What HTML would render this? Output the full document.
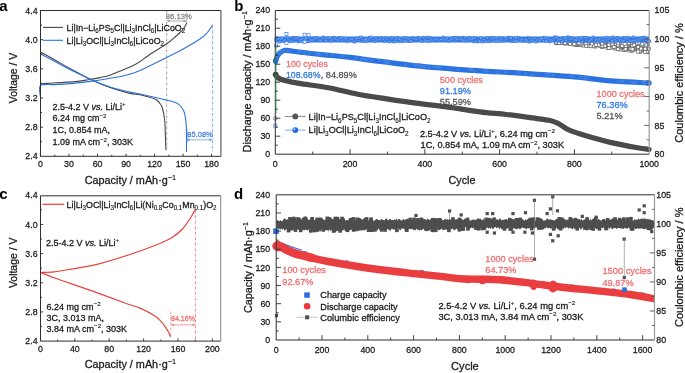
<!DOCTYPE html>
<html><head><meta charset="utf-8"><style>
html,body{margin:0;padding:0;background:#fff;width:685px;height:373px;overflow:hidden}
svg{display:block;will-change:transform;font-family:"Liberation Sans", sans-serif}
</style></head><body>
<svg width="685" height="373" viewBox="0 0 685 373">
<rect width="685" height="373" fill="#fff"/>
<g id="pa">
<path d="M40.5 83.7 C42.08 83.62 46.75 83.38 50 83.2 C53.25 83.02 55.83 82.87 60 82.6 C64.17 82.33 70.33 82.08 75 81.6 C79.67 81.12 83.83 80.37 88 79.7 C92.17 79.03 96.33 78.35 100 77.6 C103.67 76.85 106.6 76.32 110 75.2 C113.4 74.08 117.07 72.28 120.4 70.9 C123.73 69.52 127.32 68.1 130 66.9 C132.68 65.7 134.83 64.6 136.5 63.7 C138.17 62.8 137.42 63.28 140 61.5 C142.58 59.72 147.55 55.95 152 53 C156.45 50.05 162.87 46.47 166.7 43.8 C170.53 41.13 172.78 38.88 175 37 C177.22 35.12 178.5 34 180 32.5 C181.5 31 182.88 29.6 184 28 C185.12 26.4 186.25 23.75 186.7 22.9" stroke="#474747" stroke-width="1.1" fill="none" stroke-linejoin="round" stroke-linecap="round" />
<path d="M40.5 52.2 C42.92 53.5 50.08 57.28 55 60 C59.92 62.72 63.67 65.08 70 68.5 C76.33 71.92 86.33 77.33 93 80.5 C99.67 83.67 103.83 85.35 110 87.5 C116.17 89.65 125 92.2 130 93.4 C135 94.6 135.83 93.75 140 94.7 C144.17 95.65 151.67 97.63 155 99.1 C158.33 100.57 158.75 101.93 160 103.5 C161.25 105.07 161.73 105.88 162.5 108.5 C163.27 111.12 164.15 115.62 164.6 119.2 C165.05 122.78 164.98 124.93 165.2 130 C165.42 135.07 165.78 146.33 165.9 149.6" stroke="#474747" stroke-width="1.1" fill="none" stroke-linejoin="round" stroke-linecap="round" />
<path d="M40.5 97.2 C40.5 95.23 38.08 87.5 40.5 85.4 C42.92 83.3 50.08 84.9 55 84.6 C59.92 84.3 64.5 84.1 70 83.6 C75.5 83.1 83 82.2 88 81.6 C93 81 94.6 80.85 100 80 C105.4 79.15 115.4 77.48 120.4 76.5 C125.4 75.52 126.73 75.08 130 74.1 C133.27 73.12 133.88 73.37 140 70.6 C146.12 67.83 159.8 60.93 166.7 57.5 C173.6 54.07 175.85 53.08 181.4 50 C186.95 46.92 195.73 41.83 200 39 C204.27 36.17 204.9 35.28 207 33 C209.1 30.72 211.67 26.58 212.6 25.3" stroke="#2a72e0" stroke-width="1.1" fill="none" stroke-linejoin="round" stroke-linecap="round" />
<path d="M40.5 54 C42.92 55.25 50.08 58.92 55 61.5 C59.92 64.08 63.67 66.33 70 69.5 C76.33 72.67 86.33 77.58 93 80.5 C99.67 83.42 103.83 85.07 110 87 C116.17 88.93 125 90.93 130 92.1 C135 93.27 133.88 92.67 140 94 C146.12 95.33 160.7 98.63 166.7 100.1 C172.7 101.57 173.62 101.73 176 102.8 C178.38 103.87 179.58 104.77 181 106.5 C182.42 108.23 183.63 110.08 184.5 113.2 C185.37 116.32 185.87 120.73 186.2 125.2 C186.53 129.67 186.45 135.63 186.5 140 C186.55 144.37 186.5 149.5 186.5 151.4" stroke="#2a72e0" stroke-width="1.1" fill="none" stroke-linejoin="round" stroke-linecap="round" />
<line x1="166.7" y1="11" x2="166.7" y2="150" stroke="#888" stroke-width="0.8" stroke-dasharray="2.5 1.2 0.6 1.2" />
<line x1="212.6" y1="25" x2="212.6" y2="152" stroke="#6b9be8" stroke-width="0.9" stroke-dasharray="2.5 1.2 0.6 1.2" />
<line x1="187.4" y1="129" x2="187.4" y2="143" stroke="#6b9be8" stroke-width="0.6" />
<line x1="186.7" y1="11.5" x2="186.7" y2="23" stroke="#999" stroke-width="0.6" />
<line x1="167.2" y1="21" x2="186.2" y2="21" stroke="#888" stroke-width="0.7" />
<path d="M167.2 21 l2.5 -1.1 v2.2 z M186.2 21 l-2.5 -1.1 v2.2 z" fill="#888"/>
<text x="165.8" y="18.6" font-size="8" fill="#8a8a8a" stroke="#8a8a8a" stroke-width="0.28" textLength="26" lengthAdjust="spacingAndGlyphs" ><tspan>86.13%</tspan></text>
<line x1="187" y1="139.8" x2="212.2" y2="139.8" stroke="#5a8fe6" stroke-width="0.7" />
<path d="M187 139.8 l2.8 -1.3 v2.6 z M212.2 139.8 l-2.8 -1.3 v2.6 z" fill="#5a8fe6"/>
<text x="187.3" y="137.4" font-size="8" fill="#4a86e6" stroke="#4a86e6" stroke-width="0.28" textLength="25.5" lengthAdjust="spacingAndGlyphs" ><tspan>85.08%</tspan></text>
<rect x="40.5" y="10.5" width="180.3" height="145.8" fill="none" stroke="#2e2e2e" stroke-width="1"/>
<line x1="220.8" y1="10.5" x2="220.8" y2="156.3" stroke="#9a9a9a" stroke-width="1.2" />
<text x="37.6" y="159.4" font-size="9.8" fill="#1a1a1a" stroke="#1a1a1a" stroke-width="0.28" text-anchor="end" textLength="12.26" lengthAdjust="spacingAndGlyphs" ><tspan>2.4</tspan></text>
<line x1="40.5" y1="141.72" x2="42.1" y2="141.72" stroke="#2e2e2e" stroke-width="0.9" />
<line x1="40.5" y1="127.14" x2="43.1" y2="127.14" stroke="#2e2e2e" stroke-width="0.9" />
<text x="37.6" y="130.24" font-size="9.8" fill="#1a1a1a" stroke="#1a1a1a" stroke-width="0.28" text-anchor="end" textLength="12.26" lengthAdjust="spacingAndGlyphs" ><tspan>2.8</tspan></text>
<line x1="40.5" y1="112.56" x2="42.1" y2="112.56" stroke="#2e2e2e" stroke-width="0.9" />
<line x1="40.5" y1="97.98" x2="43.1" y2="97.98" stroke="#2e2e2e" stroke-width="0.9" />
<text x="37.6" y="101.08" font-size="9.8" fill="#1a1a1a" stroke="#1a1a1a" stroke-width="0.28" text-anchor="end" textLength="12.26" lengthAdjust="spacingAndGlyphs" ><tspan>3.2</tspan></text>
<line x1="40.5" y1="83.4" x2="42.1" y2="83.4" stroke="#2e2e2e" stroke-width="0.9" />
<line x1="40.5" y1="68.82" x2="43.1" y2="68.82" stroke="#2e2e2e" stroke-width="0.9" />
<text x="37.6" y="71.92" font-size="9.8" fill="#1a1a1a" stroke="#1a1a1a" stroke-width="0.28" text-anchor="end" textLength="12.26" lengthAdjust="spacingAndGlyphs" ><tspan>3.6</tspan></text>
<line x1="40.5" y1="54.24" x2="42.1" y2="54.24" stroke="#2e2e2e" stroke-width="0.9" />
<line x1="40.5" y1="39.66" x2="43.1" y2="39.66" stroke="#2e2e2e" stroke-width="0.9" />
<text x="37.6" y="42.76" font-size="9.8" fill="#1a1a1a" stroke="#1a1a1a" stroke-width="0.28" text-anchor="end" textLength="12.26" lengthAdjust="spacingAndGlyphs" ><tspan>4.0</tspan></text>
<line x1="40.5" y1="25.08" x2="42.1" y2="25.08" stroke="#2e2e2e" stroke-width="0.9" />
<text x="37.6" y="13.6" font-size="9.8" fill="#1a1a1a" stroke="#1a1a1a" stroke-width="0.28" text-anchor="end" textLength="12.26" lengthAdjust="spacingAndGlyphs" ><tspan>4.4</tspan></text>
<text x="40.5" y="167.2" font-size="9.8" fill="#1a1a1a" stroke="#1a1a1a" stroke-width="0.28" text-anchor="middle" textLength="4.91" lengthAdjust="spacingAndGlyphs" ><tspan>0</tspan></text>
<line x1="54.76" y1="156.3" x2="54.76" y2="154.7" stroke="#2e2e2e" stroke-width="0.9" />
<line x1="69.02" y1="156.3" x2="69.02" y2="153.7" stroke="#2e2e2e" stroke-width="0.9" />
<text x="69.02" y="167.2" font-size="9.8" fill="#1a1a1a" stroke="#1a1a1a" stroke-width="0.28" text-anchor="middle" textLength="9.81" lengthAdjust="spacingAndGlyphs" ><tspan>30</tspan></text>
<line x1="83.27" y1="156.3" x2="83.27" y2="154.7" stroke="#2e2e2e" stroke-width="0.9" />
<line x1="97.53" y1="156.3" x2="97.53" y2="153.7" stroke="#2e2e2e" stroke-width="0.9" />
<text x="97.53" y="167.2" font-size="9.8" fill="#1a1a1a" stroke="#1a1a1a" stroke-width="0.28" text-anchor="middle" textLength="9.81" lengthAdjust="spacingAndGlyphs" ><tspan>60</tspan></text>
<line x1="111.79" y1="156.3" x2="111.79" y2="154.7" stroke="#2e2e2e" stroke-width="0.9" />
<line x1="126.05" y1="156.3" x2="126.05" y2="153.7" stroke="#2e2e2e" stroke-width="0.9" />
<text x="126.05" y="167.2" font-size="9.8" fill="#1a1a1a" stroke="#1a1a1a" stroke-width="0.28" text-anchor="middle" textLength="9.81" lengthAdjust="spacingAndGlyphs" ><tspan>90</tspan></text>
<line x1="140.3" y1="156.3" x2="140.3" y2="154.7" stroke="#2e2e2e" stroke-width="0.9" />
<line x1="154.56" y1="156.3" x2="154.56" y2="153.7" stroke="#2e2e2e" stroke-width="0.9" />
<text x="154.56" y="167.2" font-size="9.8" fill="#1a1a1a" stroke="#1a1a1a" stroke-width="0.28" text-anchor="middle" textLength="14.72" lengthAdjust="spacingAndGlyphs" ><tspan>120</tspan></text>
<line x1="168.82" y1="156.3" x2="168.82" y2="154.7" stroke="#2e2e2e" stroke-width="0.9" />
<line x1="183.07" y1="156.3" x2="183.07" y2="153.7" stroke="#2e2e2e" stroke-width="0.9" />
<text x="183.07" y="167.2" font-size="9.8" fill="#1a1a1a" stroke="#1a1a1a" stroke-width="0.28" text-anchor="middle" textLength="14.72" lengthAdjust="spacingAndGlyphs" ><tspan>150</tspan></text>
<line x1="197.33" y1="156.3" x2="197.33" y2="154.7" stroke="#2e2e2e" stroke-width="0.9" />
<line x1="211.59" y1="156.3" x2="211.59" y2="153.7" stroke="#2e2e2e" stroke-width="0.9" />
<text x="211.59" y="167.2" font-size="9.8" fill="#1a1a1a" stroke="#1a1a1a" stroke-width="0.28" text-anchor="middle" textLength="14.72" lengthAdjust="spacingAndGlyphs" ><tspan>180</tspan></text>
<text x="84.7" y="183.8" font-size="10.6" fill="#1a1a1a" stroke="#1a1a1a" stroke-width="0.28" textLength="91.5" lengthAdjust="spacingAndGlyphs" ><tspan>Capacity / mAh·g</tspan><tspan dy="-4.24" font-size="7.21" stroke-width="0.15">−1</tspan></text>
<text x="17.3" y="103.2" font-size="10.6" fill="#1a1a1a" stroke="#1a1a1a" stroke-width="0.28" textLength="50.4" lengthAdjust="spacingAndGlyphs" transform="rotate(-90 17.3 103.2)" ><tspan>Voltage / V</tspan></text>
<line x1="43" y1="27.4" x2="63" y2="27.4" stroke="#474747" stroke-width="1.1" />
<line x1="43" y1="40.3" x2="63" y2="40.3" stroke="#2a72e0" stroke-width="1.1" />
<text x="66.6" y="30.9" font-size="9" fill="#1a1a1a" stroke="#1a1a1a" stroke-width="0.28" textLength="118.6" lengthAdjust="spacingAndGlyphs" ><tspan>Li|In−Li</tspan><tspan dy="2.43" font-size="6.3" stroke-width="0.15">6</tspan><tspan dy="-2.43">PS</tspan><tspan dy="2.43" font-size="6.3" stroke-width="0.15">5</tspan><tspan dy="-2.43">Cl|Li</tspan><tspan dy="2.43" font-size="6.3" stroke-width="0.15">3</tspan><tspan dy="-2.43">InCl</tspan><tspan dy="2.43" font-size="6.3" stroke-width="0.15">6</tspan><tspan dy="-2.43">|LiCoO</tspan><tspan dy="2.43" font-size="6.3" stroke-width="0.15">2</tspan></text>
<text x="66.6" y="43.6" font-size="9" fill="#1a1a1a" stroke="#1a1a1a" stroke-width="0.28" textLength="97.4" lengthAdjust="spacingAndGlyphs" ><tspan>Li|Li</tspan><tspan dy="2.43" font-size="6.3" stroke-width="0.15">3</tspan><tspan dy="-2.43">OCl|Li</tspan><tspan dy="2.43" font-size="6.3" stroke-width="0.15">3</tspan><tspan dy="-2.43">InCl</tspan><tspan dy="2.43" font-size="6.3" stroke-width="0.15">6</tspan><tspan dy="-2.43">|LiCoO</tspan><tspan dy="2.43" font-size="6.3" stroke-width="0.15">2</tspan></text>
<text x="52.5" y="109.5" font-size="9" fill="#1a1a1a" stroke="#1a1a1a" stroke-width="0.28" ><tspan>2.5-4.2 V </tspan><tspan dy="0" font-style="italic">vs.</tspan><tspan> Li/Li</tspan><tspan dy="-3.6" font-size="6.12" stroke-width="0.15">+</tspan></text>
<text x="52.5" y="121.3" font-size="9" fill="#1a1a1a" stroke="#1a1a1a" stroke-width="0.28" ><tspan>6.24 mg cm</tspan><tspan dy="-3.6" font-size="6.12" stroke-width="0.15">−2</tspan></text>
<text x="52.5" y="133.1" font-size="9" fill="#1a1a1a" stroke="#1a1a1a" stroke-width="0.28" ><tspan>1C, 0.854 mA,</tspan></text>
<text x="52.5" y="145.3" font-size="9" fill="#1a1a1a" stroke="#1a1a1a" stroke-width="0.28" ><tspan>1.09 mA cm</tspan><tspan dy="-3.6" font-size="6.12" stroke-width="0.15">−2</tspan><tspan dy="3.6">, 303K</tspan></text>
</g>
<g id="pb">
<path d="M275.5 74.6 C275.75 75 276.25 76.3 277 77 C277.75 77.7 278.73 78.23 280 78.8 C281.27 79.37 281.4 79.63 284.6 80.4 C287.8 81.17 291.9 82.17 299.2 83.4 C306.5 84.63 318.67 86 328.4 87.8 C338.13 89.6 347.87 92.35 357.6 94.2 C367.33 96.05 377.07 97.4 386.8 98.9 C396.53 100.4 406.27 101.9 416 103.2 C425.73 104.5 434.53 105.27 445.2 106.7 C455.87 108.13 469.82 110.5 480 111.8 C490.18 113.1 497.55 113.48 506.3 114.5 C515.05 115.52 525.38 116.93 532.5 117.9 C539.62 118.87 544.92 119.48 549 120.3 C553.08 121.12 554.67 121.77 557 122.8 C559.33 123.83 560.95 125.27 563 126.5 C565.05 127.73 565.62 128.7 569.3 130.2 C572.98 131.7 578.08 133.43 585.1 135.5 C592.12 137.57 602.65 140.55 611.4 142.6 C620.15 144.65 631.33 146.67 637.6 147.8 C643.87 148.93 647.1 149.13 649 149.4" stroke="#4a4a4a" stroke-width="5.2" fill="none" stroke-linejoin="round" stroke-linecap="round" />
<path d="M275.6 61.5 C275.8 60.83 276.23 58.82 276.8 57.5 C277.37 56.18 277.97 54.68 279 53.6 C280.03 52.52 281.83 51.53 283 51 C284.17 50.47 283.17 50.22 286 50.4 C288.83 50.58 294 51.4 300 52.1 C306 52.8 313.67 53.73 322 54.6 C330.33 55.47 341.67 56.35 350 57.3 C358.33 58.25 360 58.8 372 60.3 C384 61.8 405.33 64.63 422 66.3 C438.67 67.97 455 69.12 472 70.3 C489 71.48 506.33 72.25 524 73.4 C541.67 74.55 564.5 76.05 578 77.2 C591.5 78.35 593.17 79.33 605 80.3 C616.83 81.27 641.67 82.55 649 83" stroke="#2a72e0" stroke-width="5.2" fill="none" stroke-linejoin="round" stroke-linecap="round" />
<circle cx="648.5" cy="83" r="3" fill="#2a72e0"/>
<rect x="275.65" y="56.51" width="2" height="2" fill="none" stroke="#5a94ec" stroke-width="0.4"/>
<rect x="278.01" y="52.33" width="2" height="2" fill="none" stroke="#5a94ec" stroke-width="0.4"/>
<rect x="279.95" y="50.23" width="2" height="2" fill="none" stroke="#5a94ec" stroke-width="0.4"/>
<rect x="283.47" y="49.44" width="2" height="2" fill="none" stroke="#5a94ec" stroke-width="0.4"/>
<rect x="287.54" y="50.05" width="2" height="2" fill="none" stroke="#5a94ec" stroke-width="0.4"/>
<rect x="298.03" y="50.43" width="2" height="2" fill="none" stroke="#5a94ec" stroke-width="0.4"/>
<rect x="299.26" y="50.71" width="2" height="2" fill="none" stroke="#5a94ec" stroke-width="0.4"/>
<rect x="303.66" y="51.95" width="2" height="2" fill="none" stroke="#5a94ec" stroke-width="0.4"/>
<rect x="309.05" y="51.59" width="2" height="2" fill="none" stroke="#5a94ec" stroke-width="0.4"/>
<rect x="315.49" y="52.85" width="2" height="2" fill="none" stroke="#5a94ec" stroke-width="0.4"/>
<rect x="317.66" y="53.67" width="2" height="2" fill="none" stroke="#5a94ec" stroke-width="0.4"/>
<rect x="319.41" y="53.47" width="2" height="2" fill="none" stroke="#5a94ec" stroke-width="0.4"/>
<rect x="325.73" y="53.09" width="2" height="2" fill="none" stroke="#5a94ec" stroke-width="0.4"/>
<rect x="331.15" y="53.47" width="2" height="2" fill="none" stroke="#5a94ec" stroke-width="0.4"/>
<rect x="341.21" y="55.76" width="2" height="2" fill="none" stroke="#5a94ec" stroke-width="0.4"/>
<rect x="355" y="57.44" width="2" height="2" fill="none" stroke="#5a94ec" stroke-width="0.4"/>
<rect x="360.6" y="58.3" width="2" height="2" fill="none" stroke="#5a94ec" stroke-width="0.4"/>
<rect x="362.64" y="57.37" width="2" height="2" fill="none" stroke="#5a94ec" stroke-width="0.4"/>
<rect x="364.21" y="59.08" width="2" height="2" fill="none" stroke="#5a94ec" stroke-width="0.4"/>
<rect x="366.37" y="58.44" width="2" height="2" fill="none" stroke="#5a94ec" stroke-width="0.4"/>
<rect x="370.51" y="59.36" width="2" height="2" fill="none" stroke="#5a94ec" stroke-width="0.4"/>
<rect x="378.36" y="59.85" width="2" height="2" fill="none" stroke="#5a94ec" stroke-width="0.4"/>
<rect x="384.03" y="60.26" width="2" height="2" fill="none" stroke="#5a94ec" stroke-width="0.4"/>
<rect x="386.3" y="61.35" width="2" height="2" fill="none" stroke="#5a94ec" stroke-width="0.4"/>
<rect x="387.79" y="61.18" width="2" height="2" fill="none" stroke="#5a94ec" stroke-width="0.4"/>
<rect x="404.45" y="63.94" width="2" height="2" fill="none" stroke="#5a94ec" stroke-width="0.4"/>
<rect x="414.03" y="63.4" width="2" height="2" fill="none" stroke="#5a94ec" stroke-width="0.4"/>
<rect x="415.58" y="63.87" width="2" height="2" fill="none" stroke="#5a94ec" stroke-width="0.4"/>
<rect x="417.39" y="63.72" width="2" height="2" fill="none" stroke="#5a94ec" stroke-width="0.4"/>
<rect x="419.41" y="64.83" width="2" height="2" fill="none" stroke="#5a94ec" stroke-width="0.4"/>
<rect x="422.15" y="65.64" width="2" height="2" fill="none" stroke="#5a94ec" stroke-width="0.4"/>
<rect x="423.5" y="65.15" width="2" height="2" fill="none" stroke="#5a94ec" stroke-width="0.4"/>
<rect x="428.04" y="67.02" width="2" height="2" fill="none" stroke="#5a94ec" stroke-width="0.4"/>
<rect x="433.2" y="65.93" width="2" height="2" fill="none" stroke="#5a94ec" stroke-width="0.4"/>
<rect x="435.9" y="65.65" width="2" height="2" fill="none" stroke="#5a94ec" stroke-width="0.4"/>
<rect x="437.99" y="66.69" width="2" height="2" fill="none" stroke="#5a94ec" stroke-width="0.4"/>
<rect x="439.55" y="65.65" width="2" height="2" fill="none" stroke="#5a94ec" stroke-width="0.4"/>
<rect x="449.23" y="66.77" width="2" height="2" fill="none" stroke="#5a94ec" stroke-width="0.4"/>
<rect x="456.96" y="68.95" width="2" height="2" fill="none" stroke="#5a94ec" stroke-width="0.4"/>
<rect x="469.08" y="68.8" width="2" height="2" fill="none" stroke="#5a94ec" stroke-width="0.4"/>
<rect x="470.56" y="68.77" width="2" height="2" fill="none" stroke="#5a94ec" stroke-width="0.4"/>
<rect x="473.19" y="70.51" width="2" height="2" fill="none" stroke="#5a94ec" stroke-width="0.4"/>
<rect x="484.55" y="69.4" width="2" height="2" fill="none" stroke="#5a94ec" stroke-width="0.4"/>
<rect x="486.91" y="71.2" width="2" height="2" fill="none" stroke="#5a94ec" stroke-width="0.4"/>
<rect x="496.8" y="71.81" width="2" height="2" fill="none" stroke="#5a94ec" stroke-width="0.4"/>
<rect x="504.81" y="70.9" width="2" height="2" fill="none" stroke="#5a94ec" stroke-width="0.4"/>
<rect x="517.94" y="71.28" width="2" height="2" fill="none" stroke="#5a94ec" stroke-width="0.4"/>
<rect x="524.55" y="73.64" width="2" height="2" fill="none" stroke="#5a94ec" stroke-width="0.4"/>
<rect x="531.61" y="74.17" width="2" height="2" fill="none" stroke="#5a94ec" stroke-width="0.4"/>
<rect x="545.64" y="73.51" width="2" height="2" fill="none" stroke="#5a94ec" stroke-width="0.4"/>
<rect x="547.95" y="73.57" width="2" height="2" fill="none" stroke="#5a94ec" stroke-width="0.4"/>
<rect x="552.21" y="74.08" width="2" height="2" fill="none" stroke="#5a94ec" stroke-width="0.4"/>
<rect x="569.47" y="74.91" width="2" height="2" fill="none" stroke="#5a94ec" stroke-width="0.4"/>
<rect x="571.8" y="75.03" width="2" height="2" fill="none" stroke="#5a94ec" stroke-width="0.4"/>
<rect x="579.4" y="76.61" width="2" height="2" fill="none" stroke="#5a94ec" stroke-width="0.4"/>
<rect x="583.38" y="76.32" width="2" height="2" fill="none" stroke="#5a94ec" stroke-width="0.4"/>
<rect x="585.56" y="77.17" width="2" height="2" fill="none" stroke="#5a94ec" stroke-width="0.4"/>
<rect x="616.87" y="81.15" width="2" height="2" fill="none" stroke="#5a94ec" stroke-width="0.4"/>
<rect x="620.37" y="80.19" width="2" height="2" fill="none" stroke="#5a94ec" stroke-width="0.4"/>
<rect x="622.46" y="79.42" width="2" height="2" fill="none" stroke="#5a94ec" stroke-width="0.4"/>
<rect x="630.82" y="81.32" width="2" height="2" fill="none" stroke="#5a94ec" stroke-width="0.4"/>
<rect x="632.95" y="82.18" width="2" height="2" fill="none" stroke="#5a94ec" stroke-width="0.4"/>
<rect x="634.99" y="80.93" width="2" height="2" fill="none" stroke="#5a94ec" stroke-width="0.4"/>
<rect x="642.35" y="81.7" width="2" height="2" fill="none" stroke="#5a94ec" stroke-width="0.4"/>
<rect x="644.09" y="81.34" width="2" height="2" fill="none" stroke="#5a94ec" stroke-width="0.4"/>
<rect x="648.38" y="81.86" width="2" height="2" fill="none" stroke="#5a94ec" stroke-width="0.4"/>
<path d="M556 43 L649 42.5 L649 53 Z" fill="#9a9a9a"/>
<rect x="556.18" y="41.06" width="3" height="3" fill="#fff" stroke="#5a5a5a" stroke-width="0.6"/>
<rect x="612.53" y="44.36" width="3" height="3" fill="#fff" stroke="#5a5a5a" stroke-width="0.6"/>
<rect x="560.48" y="41.66" width="3" height="3" fill="#fff" stroke="#5a5a5a" stroke-width="0.6"/>
<rect x="627.82" y="49.04" width="3" height="3" fill="#fff" stroke="#5a5a5a" stroke-width="0.6"/>
<rect x="564.24" y="41.29" width="3" height="3" fill="#fff" stroke="#5a5a5a" stroke-width="0.6"/>
<rect x="558.18" y="41.32" width="3" height="3" fill="#fff" stroke="#5a5a5a" stroke-width="0.6"/>
<rect x="579.65" y="41.37" width="3" height="3" fill="#fff" stroke="#5a5a5a" stroke-width="0.6"/>
<rect x="593.77" y="45.04" width="3" height="3" fill="#fff" stroke="#5a5a5a" stroke-width="0.6"/>
<rect x="630.67" y="43.22" width="3" height="3" fill="#fff" stroke="#5a5a5a" stroke-width="0.6"/>
<rect x="568.39" y="42.44" width="3" height="3" fill="#fff" stroke="#5a5a5a" stroke-width="0.6"/>
<rect x="607.57" y="45.2" width="3" height="3" fill="#fff" stroke="#5a5a5a" stroke-width="0.6"/>
<rect x="562.82" y="41.05" width="3" height="3" fill="#fff" stroke="#5a5a5a" stroke-width="0.6"/>
<rect x="618.5" y="44.07" width="3" height="3" fill="#fff" stroke="#5a5a5a" stroke-width="0.6"/>
<rect x="561.23" y="41.71" width="3" height="3" fill="#fff" stroke="#5a5a5a" stroke-width="0.6"/>
<rect x="613.5" y="46.34" width="3" height="3" fill="#fff" stroke="#5a5a5a" stroke-width="0.6"/>
<rect x="562.29" y="41.75" width="3" height="3" fill="#fff" stroke="#5a5a5a" stroke-width="0.6"/>
<rect x="560.7" y="41.6" width="3" height="3" fill="#fff" stroke="#5a5a5a" stroke-width="0.6"/>
<rect x="596.7" y="42.62" width="3" height="3" fill="#fff" stroke="#5a5a5a" stroke-width="0.6"/>
<rect x="605.93" y="46.38" width="3" height="3" fill="#fff" stroke="#5a5a5a" stroke-width="0.6"/>
<rect x="579.41" y="41.36" width="3" height="3" fill="#fff" stroke="#5a5a5a" stroke-width="0.6"/>
<rect x="603.5" y="42.32" width="3" height="3" fill="#fff" stroke="#5a5a5a" stroke-width="0.6"/>
<rect x="564.68" y="41.19" width="3" height="3" fill="#fff" stroke="#5a5a5a" stroke-width="0.6"/>
<rect x="559.19" y="41.11" width="3" height="3" fill="#fff" stroke="#5a5a5a" stroke-width="0.6"/>
<rect x="583.52" y="42" width="3" height="3" fill="#fff" stroke="#5a5a5a" stroke-width="0.6"/>
<rect x="625.13" y="43.31" width="3" height="3" fill="#fff" stroke="#5a5a5a" stroke-width="0.6"/>
<rect x="601.01" y="41.93" width="3" height="3" fill="#fff" stroke="#5a5a5a" stroke-width="0.6"/>
<rect x="586.77" y="41.07" width="3" height="3" fill="#fff" stroke="#5a5a5a" stroke-width="0.6"/>
<rect x="577.79" y="41.04" width="3" height="3" fill="#fff" stroke="#5a5a5a" stroke-width="0.6"/>
<rect x="622.68" y="45.24" width="3" height="3" fill="#fff" stroke="#5a5a5a" stroke-width="0.6"/>
<rect x="572.12" y="41.94" width="3" height="3" fill="#fff" stroke="#5a5a5a" stroke-width="0.6"/>
<rect x="641.42" y="42.04" width="3" height="3" fill="#fff" stroke="#5a5a5a" stroke-width="0.6"/>
<rect x="630.66" y="44.72" width="3" height="3" fill="#fff" stroke="#5a5a5a" stroke-width="0.6"/>
<rect x="600.54" y="45.34" width="3" height="3" fill="#fff" stroke="#5a5a5a" stroke-width="0.6"/>
<rect x="591.06" y="43.09" width="3" height="3" fill="#fff" stroke="#5a5a5a" stroke-width="0.6"/>
<rect x="618.46" y="48.09" width="3" height="3" fill="#fff" stroke="#5a5a5a" stroke-width="0.6"/>
<rect x="586.37" y="43.99" width="3" height="3" fill="#fff" stroke="#5a5a5a" stroke-width="0.6"/>
<rect x="620.23" y="45.72" width="3" height="3" fill="#fff" stroke="#5a5a5a" stroke-width="0.6"/>
<rect x="592.14" y="42.48" width="3" height="3" fill="#fff" stroke="#5a5a5a" stroke-width="0.6"/>
<rect x="559.56" y="41.07" width="3" height="3" fill="#fff" stroke="#5a5a5a" stroke-width="0.6"/>
<rect x="561.08" y="41.55" width="3" height="3" fill="#fff" stroke="#5a5a5a" stroke-width="0.6"/>
<rect x="578.27" y="41.44" width="3" height="3" fill="#fff" stroke="#5a5a5a" stroke-width="0.6"/>
<rect x="562.36" y="41.75" width="3" height="3" fill="#fff" stroke="#5a5a5a" stroke-width="0.6"/>
<rect x="635.46" y="47.13" width="3" height="3" fill="#fff" stroke="#5a5a5a" stroke-width="0.6"/>
<rect x="580.72" y="41.72" width="3" height="3" fill="#fff" stroke="#5a5a5a" stroke-width="0.6"/>
<rect x="581.75" y="42.41" width="3" height="3" fill="#fff" stroke="#5a5a5a" stroke-width="0.6"/>
<rect x="569.15" y="41.74" width="3" height="3" fill="#fff" stroke="#5a5a5a" stroke-width="0.6"/>
<rect x="578.98" y="43.66" width="3" height="3" fill="#fff" stroke="#5a5a5a" stroke-width="0.6"/>
<rect x="644.95" y="46.59" width="3" height="3" fill="#fff" stroke="#5a5a5a" stroke-width="0.6"/>
<rect x="577.23" y="43.48" width="3" height="3" fill="#fff" stroke="#5a5a5a" stroke-width="0.6"/>
<rect x="583.29" y="42.16" width="3" height="3" fill="#fff" stroke="#5a5a5a" stroke-width="0.6"/>
<rect x="554.6" y="41" width="3" height="3" fill="#fff" stroke="#5a5a5a" stroke-width="0.6"/>
<rect x="598.64" y="43.51" width="3" height="3" fill="#fff" stroke="#5a5a5a" stroke-width="0.6"/>
<rect x="573.19" y="42.07" width="3" height="3" fill="#fff" stroke="#5a5a5a" stroke-width="0.6"/>
<rect x="554.96" y="41.01" width="3" height="3" fill="#fff" stroke="#5a5a5a" stroke-width="0.6"/>
<rect x="562.85" y="41.38" width="3" height="3" fill="#fff" stroke="#5a5a5a" stroke-width="0.6"/>
<rect x="558.38" y="41.01" width="3" height="3" fill="#fff" stroke="#5a5a5a" stroke-width="0.6"/>
<rect x="582.79" y="41.74" width="3" height="3" fill="#fff" stroke="#5a5a5a" stroke-width="0.6"/>
<rect x="608.96" y="44.25" width="3" height="3" fill="#fff" stroke="#5a5a5a" stroke-width="0.6"/>
<rect x="624.3" y="46.18" width="3" height="3" fill="#fff" stroke="#5a5a5a" stroke-width="0.6"/>
<rect x="621.09" y="47.61" width="3" height="3" fill="#fff" stroke="#5a5a5a" stroke-width="0.6"/>
<rect x="590.73" y="42.33" width="3" height="3" fill="#fff" stroke="#5a5a5a" stroke-width="0.6"/>
<rect x="646.08" y="42.55" width="3" height="3" fill="#fff" stroke="#5a5a5a" stroke-width="0.6"/>
<rect x="621.85" y="45.89" width="3" height="3" fill="#fff" stroke="#5a5a5a" stroke-width="0.6"/>
<rect x="558.57" y="41.38" width="3" height="3" fill="#fff" stroke="#5a5a5a" stroke-width="0.6"/>
<rect x="637.45" y="46.88" width="3" height="3" fill="#fff" stroke="#5a5a5a" stroke-width="0.6"/>
<rect x="622.75" y="47.26" width="3" height="3" fill="#fff" stroke="#5a5a5a" stroke-width="0.6"/>
<rect x="567.46" y="41.77" width="3" height="3" fill="#fff" stroke="#5a5a5a" stroke-width="0.6"/>
<rect x="601.41" y="45.42" width="3" height="3" fill="#fff" stroke="#5a5a5a" stroke-width="0.6"/>
<rect x="629.34" y="47.98" width="3" height="3" fill="#fff" stroke="#5a5a5a" stroke-width="0.6"/>
<rect x="608.82" y="46.48" width="3" height="3" fill="#fff" stroke="#5a5a5a" stroke-width="0.6"/>
<rect x="618.01" y="45.97" width="3" height="3" fill="#fff" stroke="#5a5a5a" stroke-width="0.6"/>
<rect x="575.88" y="41.08" width="3" height="3" fill="#fff" stroke="#5a5a5a" stroke-width="0.6"/>
<rect x="566.88" y="41.5" width="3" height="3" fill="#fff" stroke="#5a5a5a" stroke-width="0.6"/>
<rect x="564.26" y="41.92" width="3" height="3" fill="#fff" stroke="#5a5a5a" stroke-width="0.6"/>
<rect x="606.44" y="44.68" width="3" height="3" fill="#fff" stroke="#5a5a5a" stroke-width="0.6"/>
<rect x="612.74" y="45.48" width="3" height="3" fill="#fff" stroke="#5a5a5a" stroke-width="0.6"/>
<rect x="600" y="41.02" width="3" height="3" fill="#fff" stroke="#5a5a5a" stroke-width="0.6"/>
<rect x="628.69" y="47.27" width="3" height="3" fill="#fff" stroke="#5a5a5a" stroke-width="0.6"/>
<rect x="601.28" y="43.83" width="3" height="3" fill="#fff" stroke="#5a5a5a" stroke-width="0.6"/>
<rect x="615.81" y="41.46" width="3" height="3" fill="#fff" stroke="#5a5a5a" stroke-width="0.6"/>
<rect x="623.02" y="42.95" width="3" height="3" fill="#fff" stroke="#5a5a5a" stroke-width="0.6"/>
<rect x="561.42" y="41.21" width="3" height="3" fill="#fff" stroke="#5a5a5a" stroke-width="0.6"/>
<rect x="622.33" y="42.57" width="3" height="3" fill="#fff" stroke="#5a5a5a" stroke-width="0.6"/>
<rect x="623.3" y="48.58" width="3" height="3" fill="#fff" stroke="#5a5a5a" stroke-width="0.6"/>
<rect x="600.44" y="42.98" width="3" height="3" fill="#fff" stroke="#5a5a5a" stroke-width="0.6"/>
<rect x="599.05" y="44.44" width="3" height="3" fill="#fff" stroke="#5a5a5a" stroke-width="0.6"/>
<rect x="625.83" y="45.97" width="3" height="3" fill="#fff" stroke="#5a5a5a" stroke-width="0.6"/>
<rect x="614.28" y="41.52" width="3" height="3" fill="#fff" stroke="#5a5a5a" stroke-width="0.6"/>
<rect x="568.21" y="41.39" width="3" height="3" fill="#fff" stroke="#5a5a5a" stroke-width="0.6"/>
<rect x="623.62" y="43.38" width="3" height="3" fill="#fff" stroke="#5a5a5a" stroke-width="0.6"/>
<rect x="607.3" y="41.07" width="3" height="3" fill="#fff" stroke="#5a5a5a" stroke-width="0.6"/>
<rect x="560.14" y="41.17" width="3" height="3" fill="#fff" stroke="#5a5a5a" stroke-width="0.6"/>
<rect x="617" y="45.88" width="3" height="3" fill="#fff" stroke="#5a5a5a" stroke-width="0.6"/>
<rect x="617.34" y="43.06" width="3" height="3" fill="#fff" stroke="#5a5a5a" stroke-width="0.6"/>
<rect x="602.54" y="43.52" width="3" height="3" fill="#fff" stroke="#5a5a5a" stroke-width="0.6"/>
<rect x="597.87" y="41.58" width="3" height="3" fill="#fff" stroke="#5a5a5a" stroke-width="0.6"/>
<rect x="637.61" y="42.87" width="3" height="3" fill="#fff" stroke="#5a5a5a" stroke-width="0.6"/>
<rect x="645.47" y="50.62" width="3" height="3" fill="#fff" stroke="#5a5a5a" stroke-width="0.6"/>
<rect x="556.13" y="41.08" width="3" height="3" fill="#fff" stroke="#5a5a5a" stroke-width="0.6"/>
<rect x="630.75" y="49.33" width="3" height="3" fill="#fff" stroke="#5a5a5a" stroke-width="0.6"/>
<rect x="596.3" y="42.27" width="3" height="3" fill="#fff" stroke="#5a5a5a" stroke-width="0.6"/>
<rect x="574.01" y="43.08" width="3" height="3" fill="#fff" stroke="#5a5a5a" stroke-width="0.6"/>
<rect x="574.1" y="42.29" width="3" height="3" fill="#fff" stroke="#5a5a5a" stroke-width="0.6"/>
<rect x="567.68" y="41.78" width="3" height="3" fill="#fff" stroke="#5a5a5a" stroke-width="0.6"/>
<rect x="643.1" y="42.33" width="3" height="3" fill="#fff" stroke="#5a5a5a" stroke-width="0.6"/>
<rect x="630.78" y="45.38" width="3" height="3" fill="#fff" stroke="#5a5a5a" stroke-width="0.6"/>
<rect x="636.98" y="47.55" width="3" height="3" fill="#fff" stroke="#5a5a5a" stroke-width="0.6"/>
<rect x="576.02" y="43.18" width="3" height="3" fill="#fff" stroke="#5a5a5a" stroke-width="0.6"/>
<rect x="599.71" y="41.13" width="3" height="3" fill="#fff" stroke="#5a5a5a" stroke-width="0.6"/>
<rect x="554.83" y="41.02" width="3" height="3" fill="#fff" stroke="#5a5a5a" stroke-width="0.6"/>
<rect x="596.42" y="42.43" width="3" height="3" fill="#fff" stroke="#5a5a5a" stroke-width="0.6"/>
<rect x="567.59" y="41.51" width="3" height="3" fill="#fff" stroke="#5a5a5a" stroke-width="0.6"/>
<rect x="583.9" y="43.79" width="3" height="3" fill="#fff" stroke="#5a5a5a" stroke-width="0.6"/>
<rect x="554.66" y="41.01" width="3" height="3" fill="#fff" stroke="#5a5a5a" stroke-width="0.6"/>
<rect x="632.54" y="42.06" width="3" height="3" fill="#fff" stroke="#5a5a5a" stroke-width="0.6"/>
<rect x="640.66" y="47.94" width="3" height="3" fill="#fff" stroke="#5a5a5a" stroke-width="0.6"/>
<rect x="638.35" y="43.74" width="3" height="3" fill="#fff" stroke="#5a5a5a" stroke-width="0.6"/>
<rect x="589.12" y="42.54" width="3" height="3" fill="#fff" stroke="#5a5a5a" stroke-width="0.6"/>
<rect x="647.39" y="47.18" width="3" height="3" fill="#fff" stroke="#5a5a5a" stroke-width="0.6"/>
<rect x="588.05" y="42.62" width="3" height="3" fill="#fff" stroke="#5a5a5a" stroke-width="0.6"/>
<rect x="580.09" y="41.14" width="3" height="3" fill="#fff" stroke="#5a5a5a" stroke-width="0.6"/>
<rect x="563.96" y="41.89" width="3" height="3" fill="#fff" stroke="#5a5a5a" stroke-width="0.6"/>
<rect x="581.06" y="43.81" width="3" height="3" fill="#fff" stroke="#5a5a5a" stroke-width="0.6"/>
<rect x="577.69" y="41.7" width="3" height="3" fill="#fff" stroke="#5a5a5a" stroke-width="0.6"/>
<rect x="602.02" y="42.02" width="3" height="3" fill="#fff" stroke="#5a5a5a" stroke-width="0.6"/>
<rect x="589.22" y="44.75" width="3" height="3" fill="#fff" stroke="#5a5a5a" stroke-width="0.6"/>
<rect x="636.74" y="48.54" width="3" height="3" fill="#fff" stroke="#5a5a5a" stroke-width="0.6"/>
<rect x="613.17" y="47.05" width="3" height="3" fill="#fff" stroke="#5a5a5a" stroke-width="0.6"/>
<rect x="641.99" y="46.42" width="3" height="3" fill="#fff" stroke="#5a5a5a" stroke-width="0.6"/>
<rect x="621.42" y="41.37" width="3" height="3" fill="#fff" stroke="#5a5a5a" stroke-width="0.6"/>
<rect x="622.61" y="44.47" width="3" height="3" fill="#fff" stroke="#5a5a5a" stroke-width="0.6"/>
<rect x="624.5" y="46.09" width="3" height="3" fill="#fff" stroke="#5a5a5a" stroke-width="0.6"/>
<rect x="581.12" y="41.15" width="3" height="3" fill="#fff" stroke="#5a5a5a" stroke-width="0.6"/>
<rect x="640.69" y="42.24" width="3" height="3" fill="#fff" stroke="#5a5a5a" stroke-width="0.6"/>
<rect x="598.41" y="42.7" width="3" height="3" fill="#fff" stroke="#5a5a5a" stroke-width="0.6"/>
<rect x="582.19" y="43.31" width="3" height="3" fill="#fff" stroke="#5a5a5a" stroke-width="0.6"/>
<rect x="645.3" y="43.67" width="3" height="3" fill="#fff" stroke="#5a5a5a" stroke-width="0.6"/>
<rect x="615.51" y="43.07" width="3" height="3" fill="#fff" stroke="#5a5a5a" stroke-width="0.6"/>
<rect x="606.33" y="43.31" width="3" height="3" fill="#fff" stroke="#5a5a5a" stroke-width="0.6"/>
<rect x="570.06" y="41.28" width="3" height="3" fill="#fff" stroke="#5a5a5a" stroke-width="0.6"/>
<rect x="573.83" y="42.98" width="3" height="3" fill="#fff" stroke="#5a5a5a" stroke-width="0.6"/>
<rect x="600.73" y="42.15" width="3" height="3" fill="#fff" stroke="#5a5a5a" stroke-width="0.6"/>
<rect x="638.78" y="50.48" width="3" height="3" fill="#fff" stroke="#5a5a5a" stroke-width="0.6"/>
<rect x="596.35" y="41.66" width="3" height="3" fill="#fff" stroke="#5a5a5a" stroke-width="0.6"/>
<rect x="572.39" y="41.18" width="3" height="3" fill="#fff" stroke="#5a5a5a" stroke-width="0.6"/>
<rect x="586.3" y="41.33" width="3" height="3" fill="#fff" stroke="#5a5a5a" stroke-width="0.6"/>
<rect x="576.74" y="41.65" width="3" height="3" fill="#fff" stroke="#5a5a5a" stroke-width="0.6"/>
<rect x="607.47" y="46.31" width="3" height="3" fill="#fff" stroke="#5a5a5a" stroke-width="0.6"/>
<rect x="624.22" y="44.25" width="3" height="3" fill="#fff" stroke="#5a5a5a" stroke-width="0.6"/>
<rect x="592.99" y="43.28" width="3" height="3" fill="#fff" stroke="#5a5a5a" stroke-width="0.6"/>
<rect x="589.55" y="42.34" width="3" height="3" fill="#fff" stroke="#5a5a5a" stroke-width="0.6"/>
<rect x="560.27" y="41.18" width="3" height="3" fill="#fff" stroke="#5a5a5a" stroke-width="0.6"/>
<rect x="644.49" y="42.28" width="3" height="3" fill="#fff" stroke="#5a5a5a" stroke-width="0.6"/>
<rect x="601.32" y="44.33" width="3" height="3" fill="#fff" stroke="#5a5a5a" stroke-width="0.6"/>
<rect x="634.75" y="42.96" width="3" height="3" fill="#fff" stroke="#5a5a5a" stroke-width="0.6"/>
<rect x="579.7" y="41.71" width="3" height="3" fill="#fff" stroke="#5a5a5a" stroke-width="0.6"/>
<rect x="591.68" y="42.87" width="3" height="3" fill="#fff" stroke="#5a5a5a" stroke-width="0.6"/>
<rect x="643.22" y="49.5" width="3" height="3" fill="#fff" stroke="#5a5a5a" stroke-width="0.6"/>
<rect x="635.68" y="41.2" width="3" height="3" fill="#fff" stroke="#5a5a5a" stroke-width="0.6"/>
<rect x="557.5" y="41.24" width="3" height="3" fill="#fff" stroke="#5a5a5a" stroke-width="0.6"/>
<rect x="637.8" y="45.45" width="3" height="3" fill="#fff" stroke="#5a5a5a" stroke-width="0.6"/>
<rect x="609.11" y="41" width="3" height="3" fill="#fff" stroke="#5a5a5a" stroke-width="0.6"/>
<rect x="590.91" y="44.81" width="3" height="3" fill="#fff" stroke="#5a5a5a" stroke-width="0.6"/>
<rect x="631.28" y="48.42" width="3" height="3" fill="#fff" stroke="#5a5a5a" stroke-width="0.6"/>
<rect x="644.92" y="43.54" width="3" height="3" fill="#fff" stroke="#5a5a5a" stroke-width="0.6"/>
<rect x="564.64" y="41.18" width="3" height="3" fill="#fff" stroke="#5a5a5a" stroke-width="0.6"/>
<rect x="603.08" y="44.74" width="3" height="3" fill="#fff" stroke="#5a5a5a" stroke-width="0.6"/>
<rect x="642.06" y="48.13" width="3" height="3" fill="#fff" stroke="#5a5a5a" stroke-width="0.6"/>
<rect x="614.7" y="46.2" width="3" height="3" fill="#fff" stroke="#5a5a5a" stroke-width="0.6"/>
<rect x="597.03" y="43.65" width="3" height="3" fill="#fff" stroke="#5a5a5a" stroke-width="0.6"/>
<rect x="558.18" y="41.32" width="3" height="3" fill="#fff" stroke="#5a5a5a" stroke-width="0.6"/>
<rect x="576.13" y="43.25" width="3" height="3" fill="#fff" stroke="#5a5a5a" stroke-width="0.6"/>
<rect x="614.53" y="43.06" width="3" height="3" fill="#fff" stroke="#5a5a5a" stroke-width="0.6"/>
<rect x="566.4" y="41.34" width="3" height="3" fill="#fff" stroke="#5a5a5a" stroke-width="0.6"/>
<rect x="613.68" y="45.67" width="3" height="3" fill="#fff" stroke="#5a5a5a" stroke-width="0.6"/>
<rect x="564.93" y="41.08" width="3" height="3" fill="#fff" stroke="#5a5a5a" stroke-width="0.6"/>
<rect x="603.27" y="44.21" width="3" height="3" fill="#fff" stroke="#5a5a5a" stroke-width="0.6"/>
<rect x="590.59" y="41.91" width="3" height="3" fill="#fff" stroke="#5a5a5a" stroke-width="0.6"/>
<rect x="610.4" y="41.07" width="3" height="3" fill="#fff" stroke="#5a5a5a" stroke-width="0.6"/>
<rect x="582.54" y="42.46" width="3" height="3" fill="#fff" stroke="#5a5a5a" stroke-width="0.6"/>
<rect x="643.68" y="47.49" width="3" height="3" fill="#fff" stroke="#5a5a5a" stroke-width="0.6"/>
<rect x="636.69" y="45.41" width="3" height="3" fill="#fff" stroke="#5a5a5a" stroke-width="0.6"/>
<rect x="576.33" y="41.61" width="3" height="3" fill="#fff" stroke="#5a5a5a" stroke-width="0.6"/>
<rect x="643.84" y="48.11" width="3" height="3" fill="#fff" stroke="#5a5a5a" stroke-width="0.6"/>
<rect x="583.09" y="41.07" width="3" height="3" fill="#fff" stroke="#5a5a5a" stroke-width="0.6"/>
<rect x="600.84" y="44.53" width="3" height="3" fill="#fff" stroke="#5a5a5a" stroke-width="0.6"/>
<rect x="593.56" y="42.13" width="3" height="3" fill="#fff" stroke="#5a5a5a" stroke-width="0.6"/>
<rect x="616.56" y="47.48" width="3" height="3" fill="#fff" stroke="#5a5a5a" stroke-width="0.6"/>
<rect x="575.59" y="41.08" width="3" height="3" fill="#fff" stroke="#5a5a5a" stroke-width="0.6"/>
<rect x="585.94" y="42.49" width="3" height="3" fill="#fff" stroke="#5a5a5a" stroke-width="0.6"/>
<rect x="617.98" y="42.42" width="3" height="3" fill="#fff" stroke="#5a5a5a" stroke-width="0.6"/>
<rect x="628.63" y="47.19" width="3" height="3" fill="#fff" stroke="#5a5a5a" stroke-width="0.6"/>
<rect x="601.45" y="42.09" width="3" height="3" fill="#fff" stroke="#5a5a5a" stroke-width="0.6"/>
<rect x="644.7" y="44.17" width="3" height="3" fill="#fff" stroke="#5a5a5a" stroke-width="0.6"/>
<rect x="630.76" y="42.99" width="3" height="3" fill="#fff" stroke="#5a5a5a" stroke-width="0.6"/>
<rect x="575.09" y="42.77" width="3" height="3" fill="#fff" stroke="#5a5a5a" stroke-width="0.6"/>
<rect x="581.93" y="43.95" width="3" height="3" fill="#fff" stroke="#5a5a5a" stroke-width="0.6"/>
<rect x="600.61" y="41.98" width="3" height="3" fill="#fff" stroke="#5a5a5a" stroke-width="0.6"/>
<rect x="575.27" y="41.98" width="3" height="3" fill="#fff" stroke="#5a5a5a" stroke-width="0.6"/>
<rect x="616.37" y="47.63" width="3" height="3" fill="#fff" stroke="#5a5a5a" stroke-width="0.6"/>
<rect x="568.11" y="41.6" width="3" height="3" fill="#fff" stroke="#5a5a5a" stroke-width="0.6"/>
<rect x="574.3" y="43.18" width="3" height="3" fill="#fff" stroke="#5a5a5a" stroke-width="0.6"/>
<rect x="567.7" y="41.08" width="3" height="3" fill="#fff" stroke="#5a5a5a" stroke-width="0.6"/>
<rect x="560.09" y="41.25" width="3" height="3" fill="#fff" stroke="#5a5a5a" stroke-width="0.6"/>
<rect x="638.03" y="49.33" width="3" height="3" fill="#fff" stroke="#5a5a5a" stroke-width="0.6"/>
<rect x="622.64" y="48.67" width="3" height="3" fill="#fff" stroke="#5a5a5a" stroke-width="0.6"/>
<rect x="641.14" y="44.22" width="3" height="3" fill="#fff" stroke="#5a5a5a" stroke-width="0.6"/>
<rect x="571.75" y="42.82" width="3" height="3" fill="#fff" stroke="#5a5a5a" stroke-width="0.6"/>
<rect x="623.91" y="41.25" width="3" height="3" fill="#fff" stroke="#5a5a5a" stroke-width="0.6"/>
<rect x="616.29" y="43.64" width="3" height="3" fill="#fff" stroke="#5a5a5a" stroke-width="0.6"/>
<rect x="589.27" y="42.3" width="3" height="3" fill="#fff" stroke="#5a5a5a" stroke-width="0.6"/>
<rect x="570.24" y="41.01" width="3" height="3" fill="#fff" stroke="#5a5a5a" stroke-width="0.6"/>
<rect x="580.52" y="42.03" width="3" height="3" fill="#fff" stroke="#5a5a5a" stroke-width="0.6"/>
<rect x="643.36" y="42.24" width="3" height="3" fill="#fff" stroke="#5a5a5a" stroke-width="0.6"/>
<rect x="644.18" y="43.1" width="3" height="3" fill="#fff" stroke="#5a5a5a" stroke-width="0.6"/>
<rect x="587.67" y="44.08" width="3" height="3" fill="#fff" stroke="#5a5a5a" stroke-width="0.6"/>
<rect x="630.95" y="44.73" width="3" height="3" fill="#fff" stroke="#5a5a5a" stroke-width="0.6"/>
<rect x="559.08" y="41.24" width="3" height="3" fill="#fff" stroke="#5a5a5a" stroke-width="0.6"/>
<rect x="589.16" y="44.6" width="3" height="3" fill="#fff" stroke="#5a5a5a" stroke-width="0.6"/>
<rect x="572.45" y="41.74" width="3" height="3" fill="#fff" stroke="#5a5a5a" stroke-width="0.6"/>
<rect x="637.92" y="41.29" width="3" height="3" fill="#fff" stroke="#5a5a5a" stroke-width="0.6"/>
<rect x="592.7" y="44.5" width="3" height="3" fill="#fff" stroke="#5a5a5a" stroke-width="0.6"/>
<rect x="625.8" y="41.33" width="3" height="3" fill="#fff" stroke="#5a5a5a" stroke-width="0.6"/>
<rect x="557.74" y="41.02" width="3" height="3" fill="#fff" stroke="#5a5a5a" stroke-width="0.6"/>
<rect x="640.07" y="43.48" width="3" height="3" fill="#fff" stroke="#5a5a5a" stroke-width="0.6"/>
<rect x="624" y="48.05" width="3" height="3" fill="#fff" stroke="#5a5a5a" stroke-width="0.6"/>
<rect x="586.03" y="41.97" width="3" height="3" fill="#fff" stroke="#5a5a5a" stroke-width="0.6"/>
<rect x="643.57" y="47.2" width="3" height="3" fill="#fff" stroke="#5a5a5a" stroke-width="0.6"/>
<rect x="578.88" y="42.97" width="3" height="3" fill="#fff" stroke="#5a5a5a" stroke-width="0.6"/>
<rect x="583.93" y="41.92" width="3" height="3" fill="#fff" stroke="#5a5a5a" stroke-width="0.6"/>
<rect x="554.85" y="41.03" width="3" height="3" fill="#fff" stroke="#5a5a5a" stroke-width="0.6"/>
<rect x="639.73" y="47.1" width="3" height="3" fill="#fff" stroke="#5a5a5a" stroke-width="0.6"/>
<rect x="642.22" y="41.24" width="3" height="3" fill="#fff" stroke="#5a5a5a" stroke-width="0.6"/>
<rect x="576.25" y="42.17" width="3" height="3" fill="#fff" stroke="#5a5a5a" stroke-width="0.6"/>
<rect x="643.48" y="50.58" width="3" height="3" fill="#fff" stroke="#5a5a5a" stroke-width="0.6"/>
<rect x="590.45" y="42.02" width="3" height="3" fill="#fff" stroke="#5a5a5a" stroke-width="0.6"/>
<rect x="594.48" y="43.23" width="3" height="3" fill="#fff" stroke="#5a5a5a" stroke-width="0.6"/>
<rect x="640.81" y="42.78" width="3" height="3" fill="#fff" stroke="#5a5a5a" stroke-width="0.6"/>
<rect x="629.14" y="47.22" width="3" height="3" fill="#fff" stroke="#5a5a5a" stroke-width="0.6"/>
<rect x="631.02" y="47.68" width="3" height="3" fill="#fff" stroke="#5a5a5a" stroke-width="0.6"/>
<rect x="610.97" y="43.09" width="3" height="3" fill="#fff" stroke="#5a5a5a" stroke-width="0.6"/>
<rect x="584.22" y="42.21" width="3" height="3" fill="#fff" stroke="#5a5a5a" stroke-width="0.6"/>
<rect x="627.25" y="41.65" width="3" height="3" fill="#fff" stroke="#5a5a5a" stroke-width="0.6"/>
<rect x="572.85" y="42.56" width="3" height="3" fill="#fff" stroke="#5a5a5a" stroke-width="0.6"/>
<rect x="577.5" y="41.17" width="3" height="3" fill="#fff" stroke="#5a5a5a" stroke-width="0.6"/>
<rect x="557.65" y="41.2" width="3" height="3" fill="#fff" stroke="#5a5a5a" stroke-width="0.6"/>
<rect x="584.8" y="44.35" width="3" height="3" fill="#fff" stroke="#5a5a5a" stroke-width="0.6"/>
<rect x="636.66" y="50.16" width="3" height="3" fill="#fff" stroke="#5a5a5a" stroke-width="0.6"/>
<rect x="579.13" y="41.23" width="3" height="3" fill="#fff" stroke="#5a5a5a" stroke-width="0.6"/>
<rect x="563.47" y="41.5" width="3" height="3" fill="#fff" stroke="#5a5a5a" stroke-width="0.6"/>
<rect x="620.51" y="44.33" width="3" height="3" fill="#fff" stroke="#5a5a5a" stroke-width="0.6"/>
<rect x="576.28" y="42.03" width="3" height="3" fill="#fff" stroke="#5a5a5a" stroke-width="0.6"/>
<rect x="612.19" y="45.39" width="3" height="3" fill="#fff" stroke="#5a5a5a" stroke-width="0.6"/>
<rect x="624.06" y="47.65" width="3" height="3" fill="#fff" stroke="#5a5a5a" stroke-width="0.6"/>
<rect x="616.29" y="41.85" width="3" height="3" fill="#fff" stroke="#5a5a5a" stroke-width="0.6"/>
<rect x="632.7" y="43.59" width="3" height="3" fill="#fff" stroke="#5a5a5a" stroke-width="0.6"/>
<rect x="607.22" y="43.22" width="3" height="3" fill="#fff" stroke="#5a5a5a" stroke-width="0.6"/>
<rect x="623.14" y="42.54" width="3" height="3" fill="#fff" stroke="#5a5a5a" stroke-width="0.6"/>
<rect x="577.51" y="41.64" width="3" height="3" fill="#fff" stroke="#5a5a5a" stroke-width="0.6"/>
<rect x="568.76" y="42.42" width="3" height="3" fill="#fff" stroke="#5a5a5a" stroke-width="0.6"/>
<line x1="275.5" y1="39.5" x2="649" y2="39.5" stroke="#3a7ce6" stroke-width="6.2" />
<rect x="274.8" y="38.68" width="2.4" height="2.4" fill="#6fa2f0" stroke="#2a70e0" stroke-width="0.5"/>
<rect x="276.05" y="37.47" width="2.4" height="2.4" fill="#6fa2f0" stroke="#2a70e0" stroke-width="0.5"/>
<rect x="277.3" y="37.8" width="2.4" height="2.4" fill="#6fa2f0" stroke="#2a70e0" stroke-width="0.5"/>
<rect x="278.55" y="40.66" width="2.4" height="2.4" fill="#6fa2f0" stroke="#2a70e0" stroke-width="0.5"/>
<rect x="279.8" y="38.34" width="2.4" height="2.4" fill="#6fa2f0" stroke="#2a70e0" stroke-width="0.5"/>
<rect x="281.05" y="37.01" width="2.4" height="2.4" fill="#6fa2f0" stroke="#2a70e0" stroke-width="0.5"/>
<rect x="282.3" y="39.78" width="2.4" height="2.4" fill="#6fa2f0" stroke="#2a70e0" stroke-width="0.5"/>
<rect x="283.55" y="39.04" width="2.4" height="2.4" fill="#6fa2f0" stroke="#2a70e0" stroke-width="0.5"/>
<rect x="284.8" y="40.66" width="2.4" height="2.4" fill="#6fa2f0" stroke="#2a70e0" stroke-width="0.5"/>
<rect x="286.05" y="36.39" width="2.4" height="2.4" fill="#6fa2f0" stroke="#2a70e0" stroke-width="0.5"/>
<rect x="287.3" y="38.18" width="2.4" height="2.4" fill="#6fa2f0" stroke="#2a70e0" stroke-width="0.5"/>
<rect x="288.55" y="39.83" width="2.4" height="2.4" fill="#6fa2f0" stroke="#2a70e0" stroke-width="0.5"/>
<rect x="289.8" y="39.93" width="2.4" height="2.4" fill="#6fa2f0" stroke="#2a70e0" stroke-width="0.5"/>
<rect x="291.05" y="40.29" width="2.4" height="2.4" fill="#6fa2f0" stroke="#2a70e0" stroke-width="0.5"/>
<rect x="292.3" y="36.09" width="2.4" height="2.4" fill="#6fa2f0" stroke="#2a70e0" stroke-width="0.5"/>
<rect x="293.55" y="37.31" width="2.4" height="2.4" fill="#6fa2f0" stroke="#2a70e0" stroke-width="0.5"/>
<rect x="294.8" y="36.47" width="2.4" height="2.4" fill="#6fa2f0" stroke="#2a70e0" stroke-width="0.5"/>
<rect x="296.05" y="36.81" width="2.4" height="2.4" fill="#6fa2f0" stroke="#2a70e0" stroke-width="0.5"/>
<rect x="297.3" y="40.57" width="2.4" height="2.4" fill="#6fa2f0" stroke="#2a70e0" stroke-width="0.5"/>
<rect x="298.55" y="38.7" width="2.4" height="2.4" fill="#6fa2f0" stroke="#2a70e0" stroke-width="0.5"/>
<rect x="299.8" y="40.36" width="2.4" height="2.4" fill="#6fa2f0" stroke="#2a70e0" stroke-width="0.5"/>
<rect x="301.05" y="37.69" width="2.4" height="2.4" fill="#6fa2f0" stroke="#2a70e0" stroke-width="0.5"/>
<rect x="302.3" y="40.06" width="2.4" height="2.4" fill="#6fa2f0" stroke="#2a70e0" stroke-width="0.5"/>
<rect x="303.55" y="38.06" width="2.4" height="2.4" fill="#6fa2f0" stroke="#2a70e0" stroke-width="0.5"/>
<rect x="304.8" y="37.15" width="2.4" height="2.4" fill="#6fa2f0" stroke="#2a70e0" stroke-width="0.5"/>
<rect x="306.05" y="39.63" width="2.4" height="2.4" fill="#6fa2f0" stroke="#2a70e0" stroke-width="0.5"/>
<rect x="307.3" y="40.44" width="2.4" height="2.4" fill="#6fa2f0" stroke="#2a70e0" stroke-width="0.5"/>
<rect x="308.55" y="36.41" width="2.4" height="2.4" fill="#6fa2f0" stroke="#2a70e0" stroke-width="0.5"/>
<rect x="309.8" y="38.76" width="2.4" height="2.4" fill="#6fa2f0" stroke="#2a70e0" stroke-width="0.5"/>
<rect x="311.05" y="38.88" width="2.4" height="2.4" fill="#6fa2f0" stroke="#2a70e0" stroke-width="0.5"/>
<rect x="312.3" y="36.94" width="2.4" height="2.4" fill="#6fa2f0" stroke="#2a70e0" stroke-width="0.5"/>
<rect x="313.55" y="37.67" width="2.4" height="2.4" fill="#6fa2f0" stroke="#2a70e0" stroke-width="0.5"/>
<rect x="314.8" y="36.58" width="2.4" height="2.4" fill="#6fa2f0" stroke="#2a70e0" stroke-width="0.5"/>
<rect x="316.05" y="36.88" width="2.4" height="2.4" fill="#6fa2f0" stroke="#2a70e0" stroke-width="0.5"/>
<rect x="317.3" y="37.12" width="2.4" height="2.4" fill="#6fa2f0" stroke="#2a70e0" stroke-width="0.5"/>
<rect x="318.55" y="38.78" width="2.4" height="2.4" fill="#6fa2f0" stroke="#2a70e0" stroke-width="0.5"/>
<rect x="319.8" y="39.03" width="2.4" height="2.4" fill="#6fa2f0" stroke="#2a70e0" stroke-width="0.5"/>
<rect x="321.05" y="36.88" width="2.4" height="2.4" fill="#6fa2f0" stroke="#2a70e0" stroke-width="0.5"/>
<rect x="322.3" y="35.95" width="2.4" height="2.4" fill="#6fa2f0" stroke="#2a70e0" stroke-width="0.5"/>
<rect x="323.55" y="37.47" width="2.4" height="2.4" fill="#6fa2f0" stroke="#2a70e0" stroke-width="0.5"/>
<rect x="324.8" y="39.16" width="2.4" height="2.4" fill="#6fa2f0" stroke="#2a70e0" stroke-width="0.5"/>
<rect x="326.05" y="36.79" width="2.4" height="2.4" fill="#6fa2f0" stroke="#2a70e0" stroke-width="0.5"/>
<rect x="327.3" y="37.4" width="2.4" height="2.4" fill="#6fa2f0" stroke="#2a70e0" stroke-width="0.5"/>
<rect x="328.55" y="36.88" width="2.4" height="2.4" fill="#6fa2f0" stroke="#2a70e0" stroke-width="0.5"/>
<rect x="329.8" y="39.72" width="2.4" height="2.4" fill="#6fa2f0" stroke="#2a70e0" stroke-width="0.5"/>
<rect x="331.05" y="38.53" width="2.4" height="2.4" fill="#6fa2f0" stroke="#2a70e0" stroke-width="0.5"/>
<rect x="332.3" y="36.2" width="2.4" height="2.4" fill="#6fa2f0" stroke="#2a70e0" stroke-width="0.5"/>
<rect x="333.55" y="36.39" width="2.4" height="2.4" fill="#6fa2f0" stroke="#2a70e0" stroke-width="0.5"/>
<rect x="334.8" y="37.8" width="2.4" height="2.4" fill="#6fa2f0" stroke="#2a70e0" stroke-width="0.5"/>
<rect x="336.05" y="38.54" width="2.4" height="2.4" fill="#6fa2f0" stroke="#2a70e0" stroke-width="0.5"/>
<rect x="337.3" y="38.97" width="2.4" height="2.4" fill="#6fa2f0" stroke="#2a70e0" stroke-width="0.5"/>
<rect x="338.55" y="36.34" width="2.4" height="2.4" fill="#6fa2f0" stroke="#2a70e0" stroke-width="0.5"/>
<rect x="339.8" y="36.69" width="2.4" height="2.4" fill="#6fa2f0" stroke="#2a70e0" stroke-width="0.5"/>
<rect x="341.05" y="39.24" width="2.4" height="2.4" fill="#6fa2f0" stroke="#2a70e0" stroke-width="0.5"/>
<rect x="342.3" y="37.87" width="2.4" height="2.4" fill="#6fa2f0" stroke="#2a70e0" stroke-width="0.5"/>
<rect x="343.55" y="37.26" width="2.4" height="2.4" fill="#6fa2f0" stroke="#2a70e0" stroke-width="0.5"/>
<rect x="344.8" y="37.38" width="2.4" height="2.4" fill="#6fa2f0" stroke="#2a70e0" stroke-width="0.5"/>
<rect x="346.05" y="40.48" width="2.4" height="2.4" fill="#6fa2f0" stroke="#2a70e0" stroke-width="0.5"/>
<rect x="347.3" y="37.4" width="2.4" height="2.4" fill="#6fa2f0" stroke="#2a70e0" stroke-width="0.5"/>
<rect x="348.55" y="38.62" width="2.4" height="2.4" fill="#6fa2f0" stroke="#2a70e0" stroke-width="0.5"/>
<rect x="349.8" y="37.61" width="2.4" height="2.4" fill="#6fa2f0" stroke="#2a70e0" stroke-width="0.5"/>
<rect x="351.05" y="37.9" width="2.4" height="2.4" fill="#6fa2f0" stroke="#2a70e0" stroke-width="0.5"/>
<rect x="352.3" y="40.05" width="2.4" height="2.4" fill="#6fa2f0" stroke="#2a70e0" stroke-width="0.5"/>
<rect x="353.55" y="40.68" width="2.4" height="2.4" fill="#6fa2f0" stroke="#2a70e0" stroke-width="0.5"/>
<rect x="354.8" y="37.65" width="2.4" height="2.4" fill="#6fa2f0" stroke="#2a70e0" stroke-width="0.5"/>
<rect x="356.05" y="36.85" width="2.4" height="2.4" fill="#6fa2f0" stroke="#2a70e0" stroke-width="0.5"/>
<rect x="357.3" y="39.39" width="2.4" height="2.4" fill="#6fa2f0" stroke="#2a70e0" stroke-width="0.5"/>
<rect x="358.55" y="36.88" width="2.4" height="2.4" fill="#6fa2f0" stroke="#2a70e0" stroke-width="0.5"/>
<rect x="359.8" y="35.93" width="2.4" height="2.4" fill="#6fa2f0" stroke="#2a70e0" stroke-width="0.5"/>
<rect x="361.05" y="40.23" width="2.4" height="2.4" fill="#6fa2f0" stroke="#2a70e0" stroke-width="0.5"/>
<rect x="362.3" y="37.93" width="2.4" height="2.4" fill="#6fa2f0" stroke="#2a70e0" stroke-width="0.5"/>
<rect x="363.55" y="39.84" width="2.4" height="2.4" fill="#6fa2f0" stroke="#2a70e0" stroke-width="0.5"/>
<rect x="364.8" y="37.85" width="2.4" height="2.4" fill="#6fa2f0" stroke="#2a70e0" stroke-width="0.5"/>
<rect x="366.05" y="40.14" width="2.4" height="2.4" fill="#6fa2f0" stroke="#2a70e0" stroke-width="0.5"/>
<rect x="367.3" y="38.11" width="2.4" height="2.4" fill="#6fa2f0" stroke="#2a70e0" stroke-width="0.5"/>
<rect x="368.55" y="36.68" width="2.4" height="2.4" fill="#6fa2f0" stroke="#2a70e0" stroke-width="0.5"/>
<rect x="369.8" y="35.97" width="2.4" height="2.4" fill="#6fa2f0" stroke="#2a70e0" stroke-width="0.5"/>
<rect x="371.05" y="38.55" width="2.4" height="2.4" fill="#6fa2f0" stroke="#2a70e0" stroke-width="0.5"/>
<rect x="372.3" y="38.98" width="2.4" height="2.4" fill="#6fa2f0" stroke="#2a70e0" stroke-width="0.5"/>
<rect x="373.55" y="40.27" width="2.4" height="2.4" fill="#6fa2f0" stroke="#2a70e0" stroke-width="0.5"/>
<rect x="374.8" y="36.33" width="2.4" height="2.4" fill="#6fa2f0" stroke="#2a70e0" stroke-width="0.5"/>
<rect x="376.05" y="38.89" width="2.4" height="2.4" fill="#6fa2f0" stroke="#2a70e0" stroke-width="0.5"/>
<rect x="377.3" y="37.68" width="2.4" height="2.4" fill="#6fa2f0" stroke="#2a70e0" stroke-width="0.5"/>
<rect x="378.55" y="38.32" width="2.4" height="2.4" fill="#6fa2f0" stroke="#2a70e0" stroke-width="0.5"/>
<rect x="379.8" y="36.6" width="2.4" height="2.4" fill="#6fa2f0" stroke="#2a70e0" stroke-width="0.5"/>
<rect x="381.05" y="37.26" width="2.4" height="2.4" fill="#6fa2f0" stroke="#2a70e0" stroke-width="0.5"/>
<rect x="382.3" y="38.4" width="2.4" height="2.4" fill="#6fa2f0" stroke="#2a70e0" stroke-width="0.5"/>
<rect x="383.55" y="40.34" width="2.4" height="2.4" fill="#6fa2f0" stroke="#2a70e0" stroke-width="0.5"/>
<rect x="384.8" y="36.42" width="2.4" height="2.4" fill="#6fa2f0" stroke="#2a70e0" stroke-width="0.5"/>
<rect x="386.05" y="38.25" width="2.4" height="2.4" fill="#6fa2f0" stroke="#2a70e0" stroke-width="0.5"/>
<rect x="387.3" y="39.76" width="2.4" height="2.4" fill="#6fa2f0" stroke="#2a70e0" stroke-width="0.5"/>
<rect x="388.55" y="40.54" width="2.4" height="2.4" fill="#6fa2f0" stroke="#2a70e0" stroke-width="0.5"/>
<rect x="389.8" y="36.85" width="2.4" height="2.4" fill="#6fa2f0" stroke="#2a70e0" stroke-width="0.5"/>
<rect x="391.05" y="36.51" width="2.4" height="2.4" fill="#6fa2f0" stroke="#2a70e0" stroke-width="0.5"/>
<rect x="392.3" y="40.43" width="2.4" height="2.4" fill="#6fa2f0" stroke="#2a70e0" stroke-width="0.5"/>
<rect x="393.55" y="40.58" width="2.4" height="2.4" fill="#6fa2f0" stroke="#2a70e0" stroke-width="0.5"/>
<rect x="394.8" y="38.22" width="2.4" height="2.4" fill="#6fa2f0" stroke="#2a70e0" stroke-width="0.5"/>
<rect x="396.05" y="36.16" width="2.4" height="2.4" fill="#6fa2f0" stroke="#2a70e0" stroke-width="0.5"/>
<rect x="397.3" y="40.35" width="2.4" height="2.4" fill="#6fa2f0" stroke="#2a70e0" stroke-width="0.5"/>
<rect x="398.55" y="37.76" width="2.4" height="2.4" fill="#6fa2f0" stroke="#2a70e0" stroke-width="0.5"/>
<rect x="399.8" y="40.24" width="2.4" height="2.4" fill="#6fa2f0" stroke="#2a70e0" stroke-width="0.5"/>
<rect x="401.05" y="38.88" width="2.4" height="2.4" fill="#6fa2f0" stroke="#2a70e0" stroke-width="0.5"/>
<rect x="402.3" y="39.86" width="2.4" height="2.4" fill="#6fa2f0" stroke="#2a70e0" stroke-width="0.5"/>
<rect x="403.55" y="36.67" width="2.4" height="2.4" fill="#6fa2f0" stroke="#2a70e0" stroke-width="0.5"/>
<rect x="404.8" y="39.67" width="2.4" height="2.4" fill="#6fa2f0" stroke="#2a70e0" stroke-width="0.5"/>
<rect x="406.05" y="36.97" width="2.4" height="2.4" fill="#6fa2f0" stroke="#2a70e0" stroke-width="0.5"/>
<rect x="407.3" y="37.84" width="2.4" height="2.4" fill="#6fa2f0" stroke="#2a70e0" stroke-width="0.5"/>
<rect x="408.55" y="39.96" width="2.4" height="2.4" fill="#6fa2f0" stroke="#2a70e0" stroke-width="0.5"/>
<rect x="409.8" y="39.88" width="2.4" height="2.4" fill="#6fa2f0" stroke="#2a70e0" stroke-width="0.5"/>
<rect x="411.05" y="36.78" width="2.4" height="2.4" fill="#6fa2f0" stroke="#2a70e0" stroke-width="0.5"/>
<rect x="412.3" y="36.95" width="2.4" height="2.4" fill="#6fa2f0" stroke="#2a70e0" stroke-width="0.5"/>
<rect x="413.55" y="37.82" width="2.4" height="2.4" fill="#6fa2f0" stroke="#2a70e0" stroke-width="0.5"/>
<rect x="414.8" y="38.39" width="2.4" height="2.4" fill="#6fa2f0" stroke="#2a70e0" stroke-width="0.5"/>
<rect x="416.05" y="37.74" width="2.4" height="2.4" fill="#6fa2f0" stroke="#2a70e0" stroke-width="0.5"/>
<rect x="417.3" y="36.49" width="2.4" height="2.4" fill="#6fa2f0" stroke="#2a70e0" stroke-width="0.5"/>
<rect x="418.55" y="37.09" width="2.4" height="2.4" fill="#6fa2f0" stroke="#2a70e0" stroke-width="0.5"/>
<rect x="419.8" y="39.38" width="2.4" height="2.4" fill="#6fa2f0" stroke="#2a70e0" stroke-width="0.5"/>
<rect x="421.05" y="40.21" width="2.4" height="2.4" fill="#6fa2f0" stroke="#2a70e0" stroke-width="0.5"/>
<rect x="422.3" y="36.1" width="2.4" height="2.4" fill="#6fa2f0" stroke="#2a70e0" stroke-width="0.5"/>
<rect x="423.55" y="38.6" width="2.4" height="2.4" fill="#6fa2f0" stroke="#2a70e0" stroke-width="0.5"/>
<rect x="424.8" y="39.54" width="2.4" height="2.4" fill="#6fa2f0" stroke="#2a70e0" stroke-width="0.5"/>
<rect x="426.05" y="36.08" width="2.4" height="2.4" fill="#6fa2f0" stroke="#2a70e0" stroke-width="0.5"/>
<rect x="427.3" y="39.92" width="2.4" height="2.4" fill="#6fa2f0" stroke="#2a70e0" stroke-width="0.5"/>
<rect x="428.55" y="36.47" width="2.4" height="2.4" fill="#6fa2f0" stroke="#2a70e0" stroke-width="0.5"/>
<rect x="429.8" y="38.78" width="2.4" height="2.4" fill="#6fa2f0" stroke="#2a70e0" stroke-width="0.5"/>
<rect x="431.05" y="38.54" width="2.4" height="2.4" fill="#6fa2f0" stroke="#2a70e0" stroke-width="0.5"/>
<rect x="432.3" y="38.91" width="2.4" height="2.4" fill="#6fa2f0" stroke="#2a70e0" stroke-width="0.5"/>
<rect x="433.55" y="37.37" width="2.4" height="2.4" fill="#6fa2f0" stroke="#2a70e0" stroke-width="0.5"/>
<rect x="434.8" y="37.92" width="2.4" height="2.4" fill="#6fa2f0" stroke="#2a70e0" stroke-width="0.5"/>
<rect x="436.05" y="38.7" width="2.4" height="2.4" fill="#6fa2f0" stroke="#2a70e0" stroke-width="0.5"/>
<rect x="437.3" y="37.94" width="2.4" height="2.4" fill="#6fa2f0" stroke="#2a70e0" stroke-width="0.5"/>
<rect x="438.55" y="39.06" width="2.4" height="2.4" fill="#6fa2f0" stroke="#2a70e0" stroke-width="0.5"/>
<rect x="439.8" y="38.04" width="2.4" height="2.4" fill="#6fa2f0" stroke="#2a70e0" stroke-width="0.5"/>
<rect x="441.05" y="38" width="2.4" height="2.4" fill="#6fa2f0" stroke="#2a70e0" stroke-width="0.5"/>
<rect x="442.3" y="36.01" width="2.4" height="2.4" fill="#6fa2f0" stroke="#2a70e0" stroke-width="0.5"/>
<rect x="443.55" y="38.87" width="2.4" height="2.4" fill="#6fa2f0" stroke="#2a70e0" stroke-width="0.5"/>
<rect x="444.8" y="38.25" width="2.4" height="2.4" fill="#6fa2f0" stroke="#2a70e0" stroke-width="0.5"/>
<rect x="446.05" y="37.03" width="2.4" height="2.4" fill="#6fa2f0" stroke="#2a70e0" stroke-width="0.5"/>
<rect x="447.3" y="39.57" width="2.4" height="2.4" fill="#6fa2f0" stroke="#2a70e0" stroke-width="0.5"/>
<rect x="448.55" y="39.64" width="2.4" height="2.4" fill="#6fa2f0" stroke="#2a70e0" stroke-width="0.5"/>
<rect x="449.8" y="38.1" width="2.4" height="2.4" fill="#6fa2f0" stroke="#2a70e0" stroke-width="0.5"/>
<rect x="451.05" y="36.76" width="2.4" height="2.4" fill="#6fa2f0" stroke="#2a70e0" stroke-width="0.5"/>
<rect x="452.3" y="38.17" width="2.4" height="2.4" fill="#6fa2f0" stroke="#2a70e0" stroke-width="0.5"/>
<rect x="453.55" y="36.41" width="2.4" height="2.4" fill="#6fa2f0" stroke="#2a70e0" stroke-width="0.5"/>
<rect x="454.8" y="36.52" width="2.4" height="2.4" fill="#6fa2f0" stroke="#2a70e0" stroke-width="0.5"/>
<rect x="456.05" y="37.97" width="2.4" height="2.4" fill="#6fa2f0" stroke="#2a70e0" stroke-width="0.5"/>
<rect x="457.3" y="36.34" width="2.4" height="2.4" fill="#6fa2f0" stroke="#2a70e0" stroke-width="0.5"/>
<rect x="458.55" y="38.02" width="2.4" height="2.4" fill="#6fa2f0" stroke="#2a70e0" stroke-width="0.5"/>
<rect x="459.8" y="38.35" width="2.4" height="2.4" fill="#6fa2f0" stroke="#2a70e0" stroke-width="0.5"/>
<rect x="461.05" y="36.1" width="2.4" height="2.4" fill="#6fa2f0" stroke="#2a70e0" stroke-width="0.5"/>
<rect x="462.3" y="38.95" width="2.4" height="2.4" fill="#6fa2f0" stroke="#2a70e0" stroke-width="0.5"/>
<rect x="463.55" y="36.29" width="2.4" height="2.4" fill="#6fa2f0" stroke="#2a70e0" stroke-width="0.5"/>
<rect x="464.8" y="39.42" width="2.4" height="2.4" fill="#6fa2f0" stroke="#2a70e0" stroke-width="0.5"/>
<rect x="466.05" y="39.63" width="2.4" height="2.4" fill="#6fa2f0" stroke="#2a70e0" stroke-width="0.5"/>
<rect x="467.3" y="38.36" width="2.4" height="2.4" fill="#6fa2f0" stroke="#2a70e0" stroke-width="0.5"/>
<rect x="468.55" y="36.16" width="2.4" height="2.4" fill="#6fa2f0" stroke="#2a70e0" stroke-width="0.5"/>
<rect x="469.8" y="38.32" width="2.4" height="2.4" fill="#6fa2f0" stroke="#2a70e0" stroke-width="0.5"/>
<rect x="471.05" y="37.71" width="2.4" height="2.4" fill="#6fa2f0" stroke="#2a70e0" stroke-width="0.5"/>
<rect x="472.3" y="40.46" width="2.4" height="2.4" fill="#6fa2f0" stroke="#2a70e0" stroke-width="0.5"/>
<rect x="473.55" y="36.55" width="2.4" height="2.4" fill="#6fa2f0" stroke="#2a70e0" stroke-width="0.5"/>
<rect x="474.8" y="40.01" width="2.4" height="2.4" fill="#6fa2f0" stroke="#2a70e0" stroke-width="0.5"/>
<rect x="476.05" y="40.68" width="2.4" height="2.4" fill="#6fa2f0" stroke="#2a70e0" stroke-width="0.5"/>
<rect x="477.3" y="39.41" width="2.4" height="2.4" fill="#6fa2f0" stroke="#2a70e0" stroke-width="0.5"/>
<rect x="478.55" y="39.81" width="2.4" height="2.4" fill="#6fa2f0" stroke="#2a70e0" stroke-width="0.5"/>
<rect x="479.8" y="36.83" width="2.4" height="2.4" fill="#6fa2f0" stroke="#2a70e0" stroke-width="0.5"/>
<rect x="481.05" y="40.61" width="2.4" height="2.4" fill="#6fa2f0" stroke="#2a70e0" stroke-width="0.5"/>
<rect x="482.3" y="38.26" width="2.4" height="2.4" fill="#6fa2f0" stroke="#2a70e0" stroke-width="0.5"/>
<rect x="483.55" y="40.49" width="2.4" height="2.4" fill="#6fa2f0" stroke="#2a70e0" stroke-width="0.5"/>
<rect x="484.8" y="40.3" width="2.4" height="2.4" fill="#6fa2f0" stroke="#2a70e0" stroke-width="0.5"/>
<rect x="486.05" y="36.69" width="2.4" height="2.4" fill="#6fa2f0" stroke="#2a70e0" stroke-width="0.5"/>
<rect x="487.3" y="39.68" width="2.4" height="2.4" fill="#6fa2f0" stroke="#2a70e0" stroke-width="0.5"/>
<rect x="488.55" y="40.37" width="2.4" height="2.4" fill="#6fa2f0" stroke="#2a70e0" stroke-width="0.5"/>
<rect x="489.8" y="36.21" width="2.4" height="2.4" fill="#6fa2f0" stroke="#2a70e0" stroke-width="0.5"/>
<rect x="491.05" y="37.58" width="2.4" height="2.4" fill="#6fa2f0" stroke="#2a70e0" stroke-width="0.5"/>
<rect x="492.3" y="39.53" width="2.4" height="2.4" fill="#6fa2f0" stroke="#2a70e0" stroke-width="0.5"/>
<rect x="493.55" y="36.66" width="2.4" height="2.4" fill="#6fa2f0" stroke="#2a70e0" stroke-width="0.5"/>
<rect x="494.8" y="40.2" width="2.4" height="2.4" fill="#6fa2f0" stroke="#2a70e0" stroke-width="0.5"/>
<rect x="496.05" y="37.22" width="2.4" height="2.4" fill="#6fa2f0" stroke="#2a70e0" stroke-width="0.5"/>
<rect x="497.3" y="39.82" width="2.4" height="2.4" fill="#6fa2f0" stroke="#2a70e0" stroke-width="0.5"/>
<rect x="498.55" y="36.59" width="2.4" height="2.4" fill="#6fa2f0" stroke="#2a70e0" stroke-width="0.5"/>
<rect x="499.8" y="38.31" width="2.4" height="2.4" fill="#6fa2f0" stroke="#2a70e0" stroke-width="0.5"/>
<rect x="501.05" y="40.32" width="2.4" height="2.4" fill="#6fa2f0" stroke="#2a70e0" stroke-width="0.5"/>
<rect x="502.3" y="36.9" width="2.4" height="2.4" fill="#6fa2f0" stroke="#2a70e0" stroke-width="0.5"/>
<rect x="503.55" y="37.16" width="2.4" height="2.4" fill="#6fa2f0" stroke="#2a70e0" stroke-width="0.5"/>
<rect x="504.8" y="38.33" width="2.4" height="2.4" fill="#6fa2f0" stroke="#2a70e0" stroke-width="0.5"/>
<rect x="506.05" y="37.43" width="2.4" height="2.4" fill="#6fa2f0" stroke="#2a70e0" stroke-width="0.5"/>
<rect x="507.3" y="36.08" width="2.4" height="2.4" fill="#6fa2f0" stroke="#2a70e0" stroke-width="0.5"/>
<rect x="508.55" y="36.77" width="2.4" height="2.4" fill="#6fa2f0" stroke="#2a70e0" stroke-width="0.5"/>
<rect x="509.8" y="36.67" width="2.4" height="2.4" fill="#6fa2f0" stroke="#2a70e0" stroke-width="0.5"/>
<rect x="511.05" y="40.39" width="2.4" height="2.4" fill="#6fa2f0" stroke="#2a70e0" stroke-width="0.5"/>
<rect x="512.3" y="39.16" width="2.4" height="2.4" fill="#6fa2f0" stroke="#2a70e0" stroke-width="0.5"/>
<rect x="513.55" y="40.2" width="2.4" height="2.4" fill="#6fa2f0" stroke="#2a70e0" stroke-width="0.5"/>
<rect x="514.8" y="36.71" width="2.4" height="2.4" fill="#6fa2f0" stroke="#2a70e0" stroke-width="0.5"/>
<rect x="516.05" y="39.67" width="2.4" height="2.4" fill="#6fa2f0" stroke="#2a70e0" stroke-width="0.5"/>
<rect x="517.3" y="36.45" width="2.4" height="2.4" fill="#6fa2f0" stroke="#2a70e0" stroke-width="0.5"/>
<rect x="518.55" y="38.45" width="2.4" height="2.4" fill="#6fa2f0" stroke="#2a70e0" stroke-width="0.5"/>
<rect x="519.8" y="38.95" width="2.4" height="2.4" fill="#6fa2f0" stroke="#2a70e0" stroke-width="0.5"/>
<rect x="521.05" y="37.63" width="2.4" height="2.4" fill="#6fa2f0" stroke="#2a70e0" stroke-width="0.5"/>
<rect x="522.3" y="40.09" width="2.4" height="2.4" fill="#6fa2f0" stroke="#2a70e0" stroke-width="0.5"/>
<rect x="523.55" y="38.56" width="2.4" height="2.4" fill="#6fa2f0" stroke="#2a70e0" stroke-width="0.5"/>
<rect x="524.8" y="38.68" width="2.4" height="2.4" fill="#6fa2f0" stroke="#2a70e0" stroke-width="0.5"/>
<rect x="526.05" y="40.14" width="2.4" height="2.4" fill="#6fa2f0" stroke="#2a70e0" stroke-width="0.5"/>
<rect x="527.3" y="36.4" width="2.4" height="2.4" fill="#6fa2f0" stroke="#2a70e0" stroke-width="0.5"/>
<rect x="528.55" y="40.67" width="2.4" height="2.4" fill="#6fa2f0" stroke="#2a70e0" stroke-width="0.5"/>
<rect x="529.8" y="38.92" width="2.4" height="2.4" fill="#6fa2f0" stroke="#2a70e0" stroke-width="0.5"/>
<rect x="531.05" y="37.79" width="2.4" height="2.4" fill="#6fa2f0" stroke="#2a70e0" stroke-width="0.5"/>
<rect x="532.3" y="39.73" width="2.4" height="2.4" fill="#6fa2f0" stroke="#2a70e0" stroke-width="0.5"/>
<rect x="533.55" y="37.17" width="2.4" height="2.4" fill="#6fa2f0" stroke="#2a70e0" stroke-width="0.5"/>
<rect x="534.8" y="40.65" width="2.4" height="2.4" fill="#6fa2f0" stroke="#2a70e0" stroke-width="0.5"/>
<rect x="536.05" y="38.67" width="2.4" height="2.4" fill="#6fa2f0" stroke="#2a70e0" stroke-width="0.5"/>
<rect x="537.3" y="37.63" width="2.4" height="2.4" fill="#6fa2f0" stroke="#2a70e0" stroke-width="0.5"/>
<rect x="538.55" y="39.57" width="2.4" height="2.4" fill="#6fa2f0" stroke="#2a70e0" stroke-width="0.5"/>
<rect x="539.8" y="38.02" width="2.4" height="2.4" fill="#6fa2f0" stroke="#2a70e0" stroke-width="0.5"/>
<rect x="541.05" y="36.75" width="2.4" height="2.4" fill="#6fa2f0" stroke="#2a70e0" stroke-width="0.5"/>
<rect x="542.3" y="39.47" width="2.4" height="2.4" fill="#6fa2f0" stroke="#2a70e0" stroke-width="0.5"/>
<rect x="543.55" y="36.13" width="2.4" height="2.4" fill="#6fa2f0" stroke="#2a70e0" stroke-width="0.5"/>
<rect x="544.8" y="39.84" width="2.4" height="2.4" fill="#6fa2f0" stroke="#2a70e0" stroke-width="0.5"/>
<rect x="546.05" y="37.12" width="2.4" height="2.4" fill="#6fa2f0" stroke="#2a70e0" stroke-width="0.5"/>
<rect x="547.3" y="38.97" width="2.4" height="2.4" fill="#6fa2f0" stroke="#2a70e0" stroke-width="0.5"/>
<rect x="548.55" y="40.62" width="2.4" height="2.4" fill="#6fa2f0" stroke="#2a70e0" stroke-width="0.5"/>
<rect x="549.8" y="38.71" width="2.4" height="2.4" fill="#6fa2f0" stroke="#2a70e0" stroke-width="0.5"/>
<rect x="551.05" y="39.09" width="2.4" height="2.4" fill="#6fa2f0" stroke="#2a70e0" stroke-width="0.5"/>
<rect x="552.3" y="37.4" width="2.4" height="2.4" fill="#6fa2f0" stroke="#2a70e0" stroke-width="0.5"/>
<rect x="553.55" y="35.91" width="2.4" height="2.4" fill="#6fa2f0" stroke="#2a70e0" stroke-width="0.5"/>
<rect x="554.8" y="36.06" width="2.4" height="2.4" fill="#6fa2f0" stroke="#2a70e0" stroke-width="0.5"/>
<rect x="556.05" y="36.62" width="2.4" height="2.4" fill="#6fa2f0" stroke="#2a70e0" stroke-width="0.5"/>
<rect x="557.3" y="38.86" width="2.4" height="2.4" fill="#6fa2f0" stroke="#2a70e0" stroke-width="0.5"/>
<rect x="558.55" y="37.97" width="2.4" height="2.4" fill="#6fa2f0" stroke="#2a70e0" stroke-width="0.5"/>
<rect x="559.8" y="38.36" width="2.4" height="2.4" fill="#6fa2f0" stroke="#2a70e0" stroke-width="0.5"/>
<rect x="561.05" y="40.2" width="2.4" height="2.4" fill="#6fa2f0" stroke="#2a70e0" stroke-width="0.5"/>
<rect x="562.3" y="36.53" width="2.4" height="2.4" fill="#6fa2f0" stroke="#2a70e0" stroke-width="0.5"/>
<rect x="563.55" y="36.99" width="2.4" height="2.4" fill="#6fa2f0" stroke="#2a70e0" stroke-width="0.5"/>
<rect x="564.8" y="39.03" width="2.4" height="2.4" fill="#6fa2f0" stroke="#2a70e0" stroke-width="0.5"/>
<rect x="566.05" y="36.01" width="2.4" height="2.4" fill="#6fa2f0" stroke="#2a70e0" stroke-width="0.5"/>
<rect x="567.3" y="35.91" width="2.4" height="2.4" fill="#6fa2f0" stroke="#2a70e0" stroke-width="0.5"/>
<rect x="568.55" y="37.6" width="2.4" height="2.4" fill="#6fa2f0" stroke="#2a70e0" stroke-width="0.5"/>
<rect x="569.8" y="36.41" width="2.4" height="2.4" fill="#6fa2f0" stroke="#2a70e0" stroke-width="0.5"/>
<rect x="571.05" y="37.61" width="2.4" height="2.4" fill="#6fa2f0" stroke="#2a70e0" stroke-width="0.5"/>
<rect x="572.3" y="36.98" width="2.4" height="2.4" fill="#6fa2f0" stroke="#2a70e0" stroke-width="0.5"/>
<rect x="573.55" y="38.7" width="2.4" height="2.4" fill="#6fa2f0" stroke="#2a70e0" stroke-width="0.5"/>
<rect x="574.8" y="38.73" width="2.4" height="2.4" fill="#6fa2f0" stroke="#2a70e0" stroke-width="0.5"/>
<rect x="576.05" y="36.88" width="2.4" height="2.4" fill="#6fa2f0" stroke="#2a70e0" stroke-width="0.5"/>
<rect x="577.3" y="38.89" width="2.4" height="2.4" fill="#6fa2f0" stroke="#2a70e0" stroke-width="0.5"/>
<rect x="578.55" y="38.18" width="2.4" height="2.4" fill="#6fa2f0" stroke="#2a70e0" stroke-width="0.5"/>
<rect x="579.8" y="36.55" width="2.4" height="2.4" fill="#6fa2f0" stroke="#2a70e0" stroke-width="0.5"/>
<rect x="581.05" y="40.4" width="2.4" height="2.4" fill="#6fa2f0" stroke="#2a70e0" stroke-width="0.5"/>
<rect x="582.3" y="37.07" width="2.4" height="2.4" fill="#6fa2f0" stroke="#2a70e0" stroke-width="0.5"/>
<rect x="583.55" y="36.62" width="2.4" height="2.4" fill="#6fa2f0" stroke="#2a70e0" stroke-width="0.5"/>
<rect x="584.8" y="36.36" width="2.4" height="2.4" fill="#6fa2f0" stroke="#2a70e0" stroke-width="0.5"/>
<rect x="586.05" y="38.96" width="2.4" height="2.4" fill="#6fa2f0" stroke="#2a70e0" stroke-width="0.5"/>
<rect x="587.3" y="40.08" width="2.4" height="2.4" fill="#6fa2f0" stroke="#2a70e0" stroke-width="0.5"/>
<rect x="588.55" y="39.65" width="2.4" height="2.4" fill="#6fa2f0" stroke="#2a70e0" stroke-width="0.5"/>
<rect x="589.8" y="37.83" width="2.4" height="2.4" fill="#6fa2f0" stroke="#2a70e0" stroke-width="0.5"/>
<rect x="591.05" y="37.17" width="2.4" height="2.4" fill="#6fa2f0" stroke="#2a70e0" stroke-width="0.5"/>
<rect x="592.3" y="35.96" width="2.4" height="2.4" fill="#6fa2f0" stroke="#2a70e0" stroke-width="0.5"/>
<rect x="593.55" y="39" width="2.4" height="2.4" fill="#6fa2f0" stroke="#2a70e0" stroke-width="0.5"/>
<rect x="594.8" y="38.6" width="2.4" height="2.4" fill="#6fa2f0" stroke="#2a70e0" stroke-width="0.5"/>
<rect x="596.05" y="37.58" width="2.4" height="2.4" fill="#6fa2f0" stroke="#2a70e0" stroke-width="0.5"/>
<rect x="597.3" y="39" width="2.4" height="2.4" fill="#6fa2f0" stroke="#2a70e0" stroke-width="0.5"/>
<rect x="598.55" y="38.03" width="2.4" height="2.4" fill="#6fa2f0" stroke="#2a70e0" stroke-width="0.5"/>
<rect x="599.8" y="40.4" width="2.4" height="2.4" fill="#6fa2f0" stroke="#2a70e0" stroke-width="0.5"/>
<rect x="601.05" y="39.42" width="2.4" height="2.4" fill="#6fa2f0" stroke="#2a70e0" stroke-width="0.5"/>
<rect x="602.3" y="37.09" width="2.4" height="2.4" fill="#6fa2f0" stroke="#2a70e0" stroke-width="0.5"/>
<rect x="603.55" y="40.24" width="2.4" height="2.4" fill="#6fa2f0" stroke="#2a70e0" stroke-width="0.5"/>
<rect x="604.8" y="36.11" width="2.4" height="2.4" fill="#6fa2f0" stroke="#2a70e0" stroke-width="0.5"/>
<rect x="606.05" y="38.45" width="2.4" height="2.4" fill="#6fa2f0" stroke="#2a70e0" stroke-width="0.5"/>
<rect x="607.3" y="37.85" width="2.4" height="2.4" fill="#6fa2f0" stroke="#2a70e0" stroke-width="0.5"/>
<rect x="608.55" y="37.04" width="2.4" height="2.4" fill="#6fa2f0" stroke="#2a70e0" stroke-width="0.5"/>
<rect x="609.8" y="36.18" width="2.4" height="2.4" fill="#6fa2f0" stroke="#2a70e0" stroke-width="0.5"/>
<rect x="611.05" y="39.64" width="2.4" height="2.4" fill="#6fa2f0" stroke="#2a70e0" stroke-width="0.5"/>
<rect x="612.3" y="35.96" width="2.4" height="2.4" fill="#6fa2f0" stroke="#2a70e0" stroke-width="0.5"/>
<rect x="613.55" y="38.54" width="2.4" height="2.4" fill="#6fa2f0" stroke="#2a70e0" stroke-width="0.5"/>
<rect x="614.8" y="40.42" width="2.4" height="2.4" fill="#6fa2f0" stroke="#2a70e0" stroke-width="0.5"/>
<rect x="616.05" y="36.58" width="2.4" height="2.4" fill="#6fa2f0" stroke="#2a70e0" stroke-width="0.5"/>
<rect x="617.3" y="36.86" width="2.4" height="2.4" fill="#6fa2f0" stroke="#2a70e0" stroke-width="0.5"/>
<rect x="618.55" y="38.82" width="2.4" height="2.4" fill="#6fa2f0" stroke="#2a70e0" stroke-width="0.5"/>
<rect x="619.8" y="38.33" width="2.4" height="2.4" fill="#6fa2f0" stroke="#2a70e0" stroke-width="0.5"/>
<rect x="621.05" y="38.98" width="2.4" height="2.4" fill="#6fa2f0" stroke="#2a70e0" stroke-width="0.5"/>
<rect x="622.3" y="39.8" width="2.4" height="2.4" fill="#6fa2f0" stroke="#2a70e0" stroke-width="0.5"/>
<rect x="623.55" y="36.74" width="2.4" height="2.4" fill="#6fa2f0" stroke="#2a70e0" stroke-width="0.5"/>
<rect x="624.8" y="37.39" width="2.4" height="2.4" fill="#6fa2f0" stroke="#2a70e0" stroke-width="0.5"/>
<rect x="626.05" y="37.34" width="2.4" height="2.4" fill="#6fa2f0" stroke="#2a70e0" stroke-width="0.5"/>
<rect x="627.3" y="36.13" width="2.4" height="2.4" fill="#6fa2f0" stroke="#2a70e0" stroke-width="0.5"/>
<rect x="628.55" y="40.17" width="2.4" height="2.4" fill="#6fa2f0" stroke="#2a70e0" stroke-width="0.5"/>
<rect x="629.8" y="39.66" width="2.4" height="2.4" fill="#6fa2f0" stroke="#2a70e0" stroke-width="0.5"/>
<rect x="631.05" y="39.33" width="2.4" height="2.4" fill="#6fa2f0" stroke="#2a70e0" stroke-width="0.5"/>
<rect x="632.3" y="35.93" width="2.4" height="2.4" fill="#6fa2f0" stroke="#2a70e0" stroke-width="0.5"/>
<rect x="633.55" y="39.95" width="2.4" height="2.4" fill="#6fa2f0" stroke="#2a70e0" stroke-width="0.5"/>
<rect x="634.8" y="39.48" width="2.4" height="2.4" fill="#6fa2f0" stroke="#2a70e0" stroke-width="0.5"/>
<rect x="636.05" y="38.13" width="2.4" height="2.4" fill="#6fa2f0" stroke="#2a70e0" stroke-width="0.5"/>
<rect x="637.3" y="39.46" width="2.4" height="2.4" fill="#6fa2f0" stroke="#2a70e0" stroke-width="0.5"/>
<rect x="638.55" y="38.07" width="2.4" height="2.4" fill="#6fa2f0" stroke="#2a70e0" stroke-width="0.5"/>
<rect x="639.8" y="36.98" width="2.4" height="2.4" fill="#6fa2f0" stroke="#2a70e0" stroke-width="0.5"/>
<rect x="641.05" y="36.41" width="2.4" height="2.4" fill="#6fa2f0" stroke="#2a70e0" stroke-width="0.5"/>
<rect x="642.3" y="37.02" width="2.4" height="2.4" fill="#6fa2f0" stroke="#2a70e0" stroke-width="0.5"/>
<rect x="643.55" y="36.09" width="2.4" height="2.4" fill="#6fa2f0" stroke="#2a70e0" stroke-width="0.5"/>
<rect x="644.8" y="37.51" width="2.4" height="2.4" fill="#6fa2f0" stroke="#2a70e0" stroke-width="0.5"/>
<rect x="646.05" y="39.5" width="2.4" height="2.4" fill="#6fa2f0" stroke="#2a70e0" stroke-width="0.5"/>
<rect x="647.3" y="39.24" width="2.4" height="2.4" fill="#6fa2f0" stroke="#2a70e0" stroke-width="0.5"/>
<rect x="648.55" y="39.96" width="2.4" height="2.4" fill="#6fa2f0" stroke="#2a70e0" stroke-width="0.5"/>
<rect x="285" y="32.5" width="3" height="3" fill="#fff" stroke="#3f80e8" stroke-width="0.7"/>
<rect x="285" y="41.6" width="3" height="3" fill="#fff" stroke="#3f80e8" stroke-width="0.7"/>
<rect x="303.1" y="33.2" width="3" height="3" fill="#fff" stroke="#3f80e8" stroke-width="0.7"/>
<rect x="307" y="33.7" width="3" height="3" fill="#fff" stroke="#3f80e8" stroke-width="0.7"/>
<rect x="303.1" y="40.4" width="3" height="3" fill="#fff" stroke="#3f80e8" stroke-width="0.7"/>
<rect x="274.7" y="44" width="3" height="3" fill="#fff" stroke="#3f80e8" stroke-width="0.7"/>
<rect x="273.8" y="116.9" width="3" height="3" fill="#fff" stroke="#777" stroke-width="0.7"/>
<rect x="273.8" y="124.1" width="3" height="3" fill="#fff" stroke="#3f80e8" stroke-width="0.7"/>
<circle cx="275.6" cy="60.8" r="2.6" fill="#2a72e0"/>
<circle cx="275.6" cy="74.6" r="2.8" fill="#4a4a4a"/>
<path d="M649.2 10.5 H275.3 V154.2 H649.2" fill="none" stroke="#2e2e2e" stroke-width="1"/>
<line x1="649.2" y1="10.5" x2="649.2" y2="154.2" stroke="#9a9a9a" stroke-width="1.2" />
<line x1="275.8" y1="47" x2="275.8" y2="113" stroke="#2f8a5a" stroke-width="1.1" />
<text x="270.2" y="157.3" font-size="9.8" fill="#1a1a1a" stroke="#1a1a1a" stroke-width="0.28" text-anchor="end" textLength="4.91" lengthAdjust="spacingAndGlyphs" ><tspan>0</tspan></text>
<line x1="275.3" y1="145.2" x2="277.9" y2="145.2" stroke="#2e2e2e" stroke-width="0.9" />
<line x1="275.3" y1="136.2" x2="280.3" y2="136.2" stroke="#2e2e2e" stroke-width="0.9" />
<text x="270.2" y="139.3" font-size="9.8" fill="#1a1a1a" stroke="#1a1a1a" stroke-width="0.28" text-anchor="end" textLength="9.81" lengthAdjust="spacingAndGlyphs" ><tspan>30</tspan></text>
<line x1="275.3" y1="127.2" x2="277.9" y2="127.2" stroke="#2e2e2e" stroke-width="0.9" />
<line x1="275.3" y1="118.2" x2="280.3" y2="118.2" stroke="#2e2e2e" stroke-width="0.9" />
<text x="270.2" y="121.3" font-size="9.8" fill="#1a1a1a" stroke="#1a1a1a" stroke-width="0.28" text-anchor="end" textLength="9.81" lengthAdjust="spacingAndGlyphs" ><tspan>60</tspan></text>
<line x1="275.3" y1="109.2" x2="277.9" y2="109.2" stroke="#2e2e2e" stroke-width="0.9" />
<line x1="275.3" y1="100.2" x2="280.3" y2="100.2" stroke="#2e2e2e" stroke-width="0.9" />
<text x="270.2" y="103.3" font-size="9.8" fill="#1a1a1a" stroke="#1a1a1a" stroke-width="0.28" text-anchor="end" textLength="9.81" lengthAdjust="spacingAndGlyphs" ><tspan>90</tspan></text>
<line x1="275.3" y1="91.2" x2="277.9" y2="91.2" stroke="#2e2e2e" stroke-width="0.9" />
<line x1="275.3" y1="82.2" x2="280.3" y2="82.2" stroke="#2e2e2e" stroke-width="0.9" />
<text x="270.2" y="85.3" font-size="9.8" fill="#1a1a1a" stroke="#1a1a1a" stroke-width="0.28" text-anchor="end" textLength="14.72" lengthAdjust="spacingAndGlyphs" ><tspan>120</tspan></text>
<line x1="275.3" y1="73.2" x2="277.9" y2="73.2" stroke="#2e2e2e" stroke-width="0.9" />
<line x1="275.3" y1="64.2" x2="280.3" y2="64.2" stroke="#2e2e2e" stroke-width="0.9" />
<text x="270.2" y="67.3" font-size="9.8" fill="#1a1a1a" stroke="#1a1a1a" stroke-width="0.28" text-anchor="end" textLength="14.72" lengthAdjust="spacingAndGlyphs" ><tspan>150</tspan></text>
<line x1="275.3" y1="55.2" x2="277.9" y2="55.2" stroke="#2e2e2e" stroke-width="0.9" />
<line x1="275.3" y1="46.2" x2="280.3" y2="46.2" stroke="#2e2e2e" stroke-width="0.9" />
<text x="270.2" y="49.3" font-size="9.8" fill="#1a1a1a" stroke="#1a1a1a" stroke-width="0.28" text-anchor="end" textLength="14.72" lengthAdjust="spacingAndGlyphs" ><tspan>180</tspan></text>
<line x1="275.3" y1="37.2" x2="277.9" y2="37.2" stroke="#2e2e2e" stroke-width="0.9" />
<line x1="275.3" y1="28.2" x2="280.3" y2="28.2" stroke="#2e2e2e" stroke-width="0.9" />
<text x="270.2" y="31.3" font-size="9.8" fill="#1a1a1a" stroke="#1a1a1a" stroke-width="0.28" text-anchor="end" textLength="14.72" lengthAdjust="spacingAndGlyphs" ><tspan>210</tspan></text>
<line x1="275.3" y1="19.2" x2="277.9" y2="19.2" stroke="#2e2e2e" stroke-width="0.9" />
<text x="270.2" y="13.3" font-size="9.8" fill="#1a1a1a" stroke="#1a1a1a" stroke-width="0.28" text-anchor="end" textLength="14.72" lengthAdjust="spacingAndGlyphs" ><tspan>240</tspan></text>
<text x="654.6" y="157.3" font-size="9.8" fill="#1a1a1a" stroke="#1a1a1a" stroke-width="0.28" textLength="9.81" lengthAdjust="spacingAndGlyphs" ><tspan>80</tspan></text>
<line x1="649.2" y1="139.8" x2="646.6" y2="139.8" stroke="#555" stroke-width="0.9" />
<line x1="649.2" y1="125.4" x2="644.2" y2="125.4" stroke="#555" stroke-width="0.9" />
<text x="654.6" y="128.5" font-size="9.8" fill="#1a1a1a" stroke="#1a1a1a" stroke-width="0.28" textLength="9.81" lengthAdjust="spacingAndGlyphs" ><tspan>85</tspan></text>
<line x1="649.2" y1="111" x2="646.6" y2="111" stroke="#555" stroke-width="0.9" />
<line x1="649.2" y1="96.6" x2="644.2" y2="96.6" stroke="#555" stroke-width="0.9" />
<text x="654.6" y="99.7" font-size="9.8" fill="#1a1a1a" stroke="#1a1a1a" stroke-width="0.28" textLength="9.81" lengthAdjust="spacingAndGlyphs" ><tspan>90</tspan></text>
<line x1="649.2" y1="82.2" x2="646.6" y2="82.2" stroke="#555" stroke-width="0.9" />
<line x1="649.2" y1="67.8" x2="644.2" y2="67.8" stroke="#555" stroke-width="0.9" />
<text x="654.6" y="70.9" font-size="9.8" fill="#1a1a1a" stroke="#1a1a1a" stroke-width="0.28" textLength="9.81" lengthAdjust="spacingAndGlyphs" ><tspan>95</tspan></text>
<line x1="649.2" y1="53.4" x2="646.6" y2="53.4" stroke="#555" stroke-width="0.9" />
<line x1="649.2" y1="39" x2="644.2" y2="39" stroke="#555" stroke-width="0.9" />
<text x="654.6" y="42.1" font-size="9.8" fill="#1a1a1a" stroke="#1a1a1a" stroke-width="0.28" textLength="14.72" lengthAdjust="spacingAndGlyphs" ><tspan>100</tspan></text>
<line x1="649.2" y1="24.6" x2="646.6" y2="24.6" stroke="#555" stroke-width="0.9" />
<text x="654.6" y="13.3" font-size="9.8" fill="#1a1a1a" stroke="#1a1a1a" stroke-width="0.28" textLength="14.72" lengthAdjust="spacingAndGlyphs" ><tspan>105</tspan></text>
<text x="275.3" y="167" font-size="9.8" fill="#1a1a1a" stroke="#1a1a1a" stroke-width="0.28" text-anchor="middle" textLength="4.91" lengthAdjust="spacingAndGlyphs" ><tspan>0</tspan></text>
<line x1="312.69" y1="154.2" x2="312.69" y2="151.6" stroke="#2e2e2e" stroke-width="0.9" />
<line x1="350.08" y1="154.2" x2="350.08" y2="149.2" stroke="#2e2e2e" stroke-width="0.9" />
<text x="350.08" y="167" font-size="9.8" fill="#1a1a1a" stroke="#1a1a1a" stroke-width="0.28" text-anchor="middle" textLength="14.72" lengthAdjust="spacingAndGlyphs" ><tspan>200</tspan></text>
<line x1="387.47" y1="154.2" x2="387.47" y2="151.6" stroke="#2e2e2e" stroke-width="0.9" />
<line x1="424.86" y1="154.2" x2="424.86" y2="149.2" stroke="#2e2e2e" stroke-width="0.9" />
<text x="424.86" y="167" font-size="9.8" fill="#1a1a1a" stroke="#1a1a1a" stroke-width="0.28" text-anchor="middle" textLength="14.72" lengthAdjust="spacingAndGlyphs" ><tspan>400</tspan></text>
<line x1="462.25" y1="154.2" x2="462.25" y2="151.6" stroke="#2e2e2e" stroke-width="0.9" />
<line x1="499.64" y1="154.2" x2="499.64" y2="149.2" stroke="#2e2e2e" stroke-width="0.9" />
<text x="499.64" y="167" font-size="9.8" fill="#1a1a1a" stroke="#1a1a1a" stroke-width="0.28" text-anchor="middle" textLength="14.72" lengthAdjust="spacingAndGlyphs" ><tspan>600</tspan></text>
<line x1="537.03" y1="154.2" x2="537.03" y2="151.6" stroke="#2e2e2e" stroke-width="0.9" />
<line x1="574.42" y1="154.2" x2="574.42" y2="149.2" stroke="#2e2e2e" stroke-width="0.9" />
<text x="574.42" y="167" font-size="9.8" fill="#1a1a1a" stroke="#1a1a1a" stroke-width="0.28" text-anchor="middle" textLength="14.72" lengthAdjust="spacingAndGlyphs" ><tspan>800</tspan></text>
<line x1="611.81" y1="154.2" x2="611.81" y2="151.6" stroke="#2e2e2e" stroke-width="0.9" />
<text x="649.2" y="167" font-size="9.8" fill="#1a1a1a" stroke="#1a1a1a" stroke-width="0.28" text-anchor="middle" textLength="19.62" lengthAdjust="spacingAndGlyphs" ><tspan>1000</tspan></text>
<text x="448.6" y="183.8" font-size="10.6" fill="#1a1a1a" stroke="#1a1a1a" stroke-width="0.28" textLength="26.9" lengthAdjust="spacingAndGlyphs" ><tspan>Cycle</tspan></text>
<text x="251.5" y="152.4" font-size="10.6" fill="#1a1a1a" stroke="#1a1a1a" stroke-width="0.28" textLength="141.5" lengthAdjust="spacingAndGlyphs" transform="rotate(-90 251.5 152.4)" ><tspan>Discharge capacity / mAh·g</tspan><tspan dy="-4.24" font-size="7.21" stroke-width="0.15">−1</tspan></text>
<text x="682.8" y="142.7" font-size="10.6" fill="#1a1a1a" stroke="#1a1a1a" stroke-width="0.28" textLength="119.5" lengthAdjust="spacingAndGlyphs" transform="rotate(-90 682.8 142.7)" ><tspan>Coulombic efficiency / %</tspan></text>
<line x1="284.8" y1="116.4" x2="305.7" y2="116.4" stroke="#7a7a7a" stroke-width="0.9" />
<circle cx="295.3" cy="116.4" r="2.9" fill="#555"/>
<line x1="284.8" y1="130.1" x2="305.7" y2="130.1" stroke="#6ea0ee" stroke-width="0.9" />
<circle cx="295.3" cy="130.1" r="2.9" fill="#1e6be0"/><circle cx="294.4" cy="129.2" r="1" fill="#bcd4f8"/>
<text x="308.6" y="120.1" font-size="9" fill="#1a1a1a" stroke="#1a1a1a" stroke-width="0.28" textLength="122" lengthAdjust="spacingAndGlyphs" ><tspan>Li|In−Li</tspan><tspan dy="2.43" font-size="6.3" stroke-width="0.15">6</tspan><tspan dy="-2.43">PS</tspan><tspan dy="2.43" font-size="6.3" stroke-width="0.15">5</tspan><tspan dy="-2.43">Cl|Li</tspan><tspan dy="2.43" font-size="6.3" stroke-width="0.15">3</tspan><tspan dy="-2.43">InCl</tspan><tspan dy="2.43" font-size="6.3" stroke-width="0.15">6</tspan><tspan dy="-2.43">|LiCoO</tspan><tspan dy="2.43" font-size="6.3" stroke-width="0.15">2</tspan></text>
<text x="308.6" y="133.1" font-size="9" fill="#1a1a1a" stroke="#1a1a1a" stroke-width="0.28" textLength="100" lengthAdjust="spacingAndGlyphs" ><tspan>Li|Li</tspan><tspan dy="2.43" font-size="6.3" stroke-width="0.15">3</tspan><tspan dy="-2.43">OCl|Li</tspan><tspan dy="2.43" font-size="6.3" stroke-width="0.15">3</tspan><tspan dy="-2.43">InCl</tspan><tspan dy="2.43" font-size="6.3" stroke-width="0.15">6</tspan><tspan dy="-2.43">|LiCoO</tspan><tspan dy="2.43" font-size="6.3" stroke-width="0.15">2</tspan></text>
<text x="286" y="66.6" font-size="9.2" fill="#ef6f72" stroke="#ef6f72" stroke-width="0.28" textLength="41.9" lengthAdjust="spacingAndGlyphs" ><tspan>100 cycles</tspan></text>
<text x="286" y="77.9" font-size="9.2" fill="#2f78e4" stroke="#2f78e4" stroke-width="0.28" textLength="34.4" lengthAdjust="spacingAndGlyphs" ><tspan>108.68%</tspan></text>
<text x="320.8" y="77.9" font-size="9.2" fill="#555" stroke="#555" stroke-width="0.28" textLength="36" lengthAdjust="spacingAndGlyphs" ><tspan>, 84.89%</tspan></text>
<text x="439.8" y="82.8" font-size="9.2" fill="#ef6f72" stroke="#ef6f72" stroke-width="0.28" textLength="43.1" lengthAdjust="spacingAndGlyphs" ><tspan>500 cycles</tspan></text>
<text x="439.8" y="93.8" font-size="9.2" fill="#2f78e4" stroke="#2f78e4" stroke-width="0.28" ><tspan>91.19%</tspan></text>
<text x="439.8" y="105" font-size="9.2" fill="#555" stroke="#555" stroke-width="0.28" ><tspan>55.59%</tspan></text>
<text x="596.5" y="96.8" font-size="9.2" fill="#ef6f72" stroke="#ef6f72" stroke-width="0.28" textLength="48.2" lengthAdjust="spacingAndGlyphs" ><tspan>1000 cycles</tspan></text>
<text x="596.5" y="107.5" font-size="9.2" fill="#2f78e4" stroke="#2f78e4" stroke-width="0.28" ><tspan>76.36%</tspan></text>
<text x="596.5" y="119.1" font-size="9.2" fill="#555" stroke="#555" stroke-width="0.28" ><tspan>5.21%</tspan></text>
<text x="419.9" y="136.6" font-size="9" fill="#1a1a1a" stroke="#1a1a1a" stroke-width="0.28" textLength="135" lengthAdjust="spacingAndGlyphs" ><tspan>2.5-4.2 V </tspan><tspan dy="0" font-style="italic">vs.</tspan><tspan> Li/Li</tspan><tspan dy="-3.6" font-size="6.12" stroke-width="0.15">+</tspan><tspan dy="3.6">, 6.24 mg cm</tspan><tspan dy="-3.6" font-size="6.12" stroke-width="0.15">−2</tspan></text>
<text x="420.6" y="148.2" font-size="9" fill="#1a1a1a" stroke="#1a1a1a" stroke-width="0.28" textLength="143.5" lengthAdjust="spacingAndGlyphs" ><tspan>1C, 0.854 mA, 1.09 mA cm</tspan><tspan dy="-3.6" font-size="6.12" stroke-width="0.15">−2</tspan><tspan dy="3.6">, 303K</tspan></text>
</g>
<g id="pc">
<path d="M40.5 272.5 C42.77 272.38 49.15 272.33 54.1 271.8 C59.05 271.27 62.88 270.58 70.2 269.3 C77.52 268.02 88.03 266.57 98 264.1 C107.97 261.63 120.33 257.68 130 254.5 C139.67 251.32 149 247.83 156 245 C163 242.17 167.67 240.08 172 237.5 C176.33 234.92 179.25 232.25 182 229.5 C184.75 226.75 186.75 223.5 188.5 221 C190.25 218.5 191.42 216.33 192.5 214.5 C193.58 212.67 194.58 210.75 195 210" stroke="#e8423c" stroke-width="1.2" fill="none" stroke-linejoin="round" stroke-linecap="round" />
<path d="M40.5 272.5 C42.77 273.38 49.15 275.98 54.1 277.8 C59.05 279.62 62.88 280.85 70.2 283.4 C77.52 285.95 88.77 289.78 98 293.1 C107.23 296.42 118.6 300.8 125.6 303.3 C132.6 305.8 135.37 306.13 140 308.1 C144.63 310.07 150.05 313.05 153.4 315.1 C156.75 317.15 158.1 318.4 160.1 320.4 C162.1 322.4 163.95 325.08 165.4 327.1 C166.85 329.12 167.95 330.93 168.8 332.5 C169.65 334.07 170.22 335.83 170.5 336.5" stroke="#e8423c" stroke-width="1.2" fill="none" stroke-linejoin="round" stroke-linecap="round" />
<line x1="195.5" y1="210" x2="195.5" y2="341" stroke="#f07070" stroke-width="0.8" stroke-dasharray="2.5 1.2 0.6 1.2" />
<line x1="170.7" y1="311.3" x2="170.7" y2="336" stroke="#f07070" stroke-width="0.7" stroke-dasharray="2.5 1.2 0.6 1.2" />
<line x1="171.2" y1="324.9" x2="195" y2="324.9" stroke="#f07070" stroke-width="0.7" />
<path d="M171.2 324.9 l2.5 -1.1 v2.2 z M195 324.9 l-2.5 -1.1 v2.2 z" fill="#f07070"/>
<text x="171" y="321" font-size="7.6" fill="#f07070" stroke="#f07070" stroke-width="0.28" textLength="24" lengthAdjust="spacingAndGlyphs" ><tspan>84.16%</tspan></text>
<path d="M220.7 195.8 H40.5 V341.1 H220.7" fill="none" stroke="#2e2e2e" stroke-width="1"/>
<line x1="220.7" y1="195.3" x2="220.7" y2="341.1" stroke="#9a9a9a" stroke-width="1.2" />
<text x="37.6" y="344.2" font-size="9.8" fill="#1a1a1a" stroke="#1a1a1a" stroke-width="0.28" text-anchor="end" textLength="12.26" lengthAdjust="spacingAndGlyphs" ><tspan>2.4</tspan></text>
<line x1="40.5" y1="326.52" x2="42" y2="326.52" stroke="#2e2e2e" stroke-width="0.9" />
<line x1="40.5" y1="311.94" x2="43.2" y2="311.94" stroke="#2e2e2e" stroke-width="0.9" />
<text x="37.6" y="315.04" font-size="9.8" fill="#1a1a1a" stroke="#1a1a1a" stroke-width="0.28" text-anchor="end" textLength="12.26" lengthAdjust="spacingAndGlyphs" ><tspan>2.8</tspan></text>
<line x1="40.5" y1="297.36" x2="42" y2="297.36" stroke="#2e2e2e" stroke-width="0.9" />
<line x1="40.5" y1="282.78" x2="43.2" y2="282.78" stroke="#2e2e2e" stroke-width="0.9" />
<text x="37.6" y="285.88" font-size="9.8" fill="#1a1a1a" stroke="#1a1a1a" stroke-width="0.28" text-anchor="end" textLength="12.26" lengthAdjust="spacingAndGlyphs" ><tspan>3.2</tspan></text>
<line x1="40.5" y1="268.2" x2="42" y2="268.2" stroke="#2e2e2e" stroke-width="0.9" />
<line x1="40.5" y1="253.62" x2="43.2" y2="253.62" stroke="#2e2e2e" stroke-width="0.9" />
<text x="37.6" y="256.72" font-size="9.8" fill="#1a1a1a" stroke="#1a1a1a" stroke-width="0.28" text-anchor="end" textLength="12.26" lengthAdjust="spacingAndGlyphs" ><tspan>3.6</tspan></text>
<line x1="40.5" y1="239.04" x2="42" y2="239.04" stroke="#2e2e2e" stroke-width="0.9" />
<line x1="40.5" y1="224.46" x2="43.2" y2="224.46" stroke="#2e2e2e" stroke-width="0.9" />
<text x="37.6" y="227.56" font-size="9.8" fill="#1a1a1a" stroke="#1a1a1a" stroke-width="0.28" text-anchor="end" textLength="12.26" lengthAdjust="spacingAndGlyphs" ><tspan>4.0</tspan></text>
<line x1="40.5" y1="209.88" x2="42" y2="209.88" stroke="#2e2e2e" stroke-width="0.9" />
<text x="37.6" y="198.4" font-size="9.8" fill="#1a1a1a" stroke="#1a1a1a" stroke-width="0.28" text-anchor="end" textLength="12.26" lengthAdjust="spacingAndGlyphs" ><tspan>4.4</tspan></text>
<text x="40.4" y="352.3" font-size="9.8" fill="#1a1a1a" stroke="#1a1a1a" stroke-width="0.28" text-anchor="middle" textLength="4.91" lengthAdjust="spacingAndGlyphs" ><tspan>0</tspan></text>
<line x1="57.6" y1="341.1" x2="57.6" y2="339.6" stroke="#2e2e2e" stroke-width="0.9" />
<line x1="74.8" y1="341.1" x2="74.8" y2="338.4" stroke="#2e2e2e" stroke-width="0.9" />
<text x="74.8" y="352.3" font-size="9.8" fill="#1a1a1a" stroke="#1a1a1a" stroke-width="0.28" text-anchor="middle" textLength="9.81" lengthAdjust="spacingAndGlyphs" ><tspan>40</tspan></text>
<line x1="92" y1="341.1" x2="92" y2="339.6" stroke="#2e2e2e" stroke-width="0.9" />
<line x1="109.2" y1="341.1" x2="109.2" y2="338.4" stroke="#2e2e2e" stroke-width="0.9" />
<text x="109.2" y="352.3" font-size="9.8" fill="#1a1a1a" stroke="#1a1a1a" stroke-width="0.28" text-anchor="middle" textLength="9.81" lengthAdjust="spacingAndGlyphs" ><tspan>80</tspan></text>
<line x1="126.4" y1="341.1" x2="126.4" y2="339.6" stroke="#2e2e2e" stroke-width="0.9" />
<line x1="143.6" y1="341.1" x2="143.6" y2="338.4" stroke="#2e2e2e" stroke-width="0.9" />
<text x="143.6" y="352.3" font-size="9.8" fill="#1a1a1a" stroke="#1a1a1a" stroke-width="0.28" text-anchor="middle" textLength="14.72" lengthAdjust="spacingAndGlyphs" ><tspan>120</tspan></text>
<line x1="160.8" y1="341.1" x2="160.8" y2="339.6" stroke="#2e2e2e" stroke-width="0.9" />
<line x1="178" y1="341.1" x2="178" y2="338.4" stroke="#2e2e2e" stroke-width="0.9" />
<text x="178" y="352.3" font-size="9.8" fill="#1a1a1a" stroke="#1a1a1a" stroke-width="0.28" text-anchor="middle" textLength="14.72" lengthAdjust="spacingAndGlyphs" ><tspan>160</tspan></text>
<line x1="195.2" y1="341.1" x2="195.2" y2="339.6" stroke="#2e2e2e" stroke-width="0.9" />
<line x1="212.4" y1="341.1" x2="212.4" y2="338.4" stroke="#2e2e2e" stroke-width="0.9" />
<text x="212.4" y="352.3" font-size="9.8" fill="#1a1a1a" stroke="#1a1a1a" stroke-width="0.28" text-anchor="middle" textLength="14.72" lengthAdjust="spacingAndGlyphs" ><tspan>200</tspan></text>
<text x="84.7" y="368.3" font-size="10.6" fill="#1a1a1a" stroke="#1a1a1a" stroke-width="0.28" textLength="91.5" lengthAdjust="spacingAndGlyphs" ><tspan>Capacity / mAh·g</tspan><tspan dy="-4.24" font-size="7.21" stroke-width="0.15">−1</tspan></text>
<text x="17.3" y="288" font-size="10.6" fill="#1a1a1a" stroke="#1a1a1a" stroke-width="0.28" textLength="50.4" lengthAdjust="spacingAndGlyphs" transform="rotate(-90 17.3 288)" ><tspan>Voltage / V</tspan></text>
<line x1="42.4" y1="204.3" x2="64.1" y2="204.3" stroke="#e8423c" stroke-width="1.2" />
<text x="66.5" y="207.9" font-size="9" fill="#1a1a1a" stroke="#1a1a1a" stroke-width="0.28" textLength="150" lengthAdjust="spacingAndGlyphs" ><tspan>Li|Li</tspan><tspan dy="2.43" font-size="6.3" stroke-width="0.15">3</tspan><tspan dy="-2.43">OCl|Li</tspan><tspan dy="2.43" font-size="6.3" stroke-width="0.15">3</tspan><tspan dy="-2.43">InCl</tspan><tspan dy="2.43" font-size="6.3" stroke-width="0.15">6</tspan><tspan dy="-2.43">|Li(Ni</tspan><tspan dy="2.43" font-size="6.3" stroke-width="0.15">0.8</tspan><tspan dy="-2.43">Co</tspan><tspan dy="2.43" font-size="6.3" stroke-width="0.15">0.1</tspan><tspan dy="-2.43">Mn</tspan><tspan dy="2.43" font-size="6.3" stroke-width="0.15">0.1</tspan><tspan dy="-2.43">)O</tspan><tspan dy="2.43" font-size="6.3" stroke-width="0.15">2</tspan></text>
<text x="46" y="245.8" font-size="9" fill="#1a1a1a" stroke="#1a1a1a" stroke-width="0.28" ><tspan>2.5-4.2 V </tspan><tspan dy="0" font-style="italic">vs.</tspan><tspan> Li/Li</tspan><tspan dy="-3.6" font-size="6.12" stroke-width="0.15">+</tspan></text>
<text x="46.6" y="309.5" font-size="9" fill="#1a1a1a" stroke="#1a1a1a" stroke-width="0.28" ><tspan>6.24 mg cm</tspan><tspan dy="-3.6" font-size="6.12" stroke-width="0.15">−2</tspan></text>
<text x="46.6" y="320.6" font-size="9" fill="#1a1a1a" stroke="#1a1a1a" stroke-width="0.28" ><tspan>3C, 3.013 mA,</tspan></text>
<text x="46.6" y="332" font-size="9" fill="#1a1a1a" stroke="#1a1a1a" stroke-width="0.28" ><tspan>3.84 mA cm</tspan><tspan dy="-3.6" font-size="6.12" stroke-width="0.15">−2</tspan><tspan dy="3.6">, 303K</tspan></text>
</g>
<g id="pd">
<clipPath id="dclip"><rect x="270" y="190" width="385" height="152"/></clipPath>
<g clip-path="url(#dclip)">
<rect x="303" y="251.2" width="3.5" height="2.5" fill="#3a78e0"/>
<rect x="345" y="260.5" width="3.5" height="2.5" fill="#3a78e0"/>
<rect x="420" y="270" width="3.5" height="2.5" fill="#3a78e0"/>
<rect x="570" y="284.5" width="3.5" height="2.5" fill="#3a78e0"/>
<rect x="612" y="288.6" width="3.5" height="2.5" fill="#3a78e0"/>
<rect x="640" y="292.5" width="3.5" height="2.5" fill="#3a78e0"/>
<path d="M276.5 246 C277.08 246.03 278.08 245.45 280 246.2 C281.92 246.95 285.33 249.25 288 250.5 C290.67 251.75 293.33 252.83 296 253.7 C298.67 254.57 301.33 255 304 255.7 C306.67 256.4 307.93 256.93 312 257.9 C316.07 258.87 320.8 260.07 328.4 261.5 C336 262.93 347.87 265 357.6 266.5 C367.33 268 377.07 269.28 386.8 270.5 C396.53 271.72 406.27 272.73 416 273.8 C425.73 274.87 437.87 276.07 445.2 276.9 C452.53 277.73 454.2 278.42 460 278.8 C465.8 279.18 473.33 279.03 480 279.2 C486.67 279.37 491.67 279.15 500 279.8 C508.33 280.45 520 281.9 530 283.1 C540 284.3 548.33 285.67 560 287 C571.67 288.33 588.33 289.85 600 291.1 C611.67 292.35 620.92 293.23 630 294.5 C639.08 295.77 649.5 297.87 654.5 298.7 C659.5 299.53 659.08 299.37 660 299.5" stroke="#ea3d40" stroke-width="7.4" fill="none" stroke-linejoin="round" stroke-linecap="round" />
<path d="M277 241.2 L290 246.4 L302 250.3" stroke="#3a78e0" stroke-width="1.2" fill="none"/>
<path d="M276.5 246 C277.08 246.03 278.08 245.45 280 246.2 C281.92 246.95 285.33 249.25 288 250.5 C290.67 251.75 293.33 252.83 296 253.7 C298.67 254.57 301.33 255 304 255.7 C306.67 256.4 310.67 257.53 312 257.9" stroke="#ea3d40" stroke-width="8.4" fill="none" stroke-linejoin="round" stroke-linecap="round" />
<ellipse cx="278" cy="246.2" rx="4" ry="5.4" fill="#ea3d40"/>
<ellipse cx="553" cy="286.6" rx="4.6" ry="6" fill="#ea3d40"/><ellipse cx="533.6" cy="284.8" rx="3.8" ry="5.2" fill="#ea3d40"/><circle cx="482.5" cy="280.4" r="3.8" fill="#ea3d40"/><circle cx="468" cy="279.5" r="3.8" fill="#ea3d40"/>
</g>
<path d="M276.5 221.32 L277.5 219.9 L278.5 220.78 L279.5 221.42 L280.5 220.06 L281.5 221.26 L282.5 221.06 L283.5 219.3 L284.5 218.35 L285.5 219 L286.5 219.89 L287.5 218.93 L288.5 219.81 L289.5 220.22 L290.5 219.15 L291.5 218.95 L292.5 219 L293.5 219.11 L294.5 217.71 L295.5 218.12 L296.5 219.48 L297.5 219.55 L298.5 218.31 L299.5 218.1 L300.5 217.81 L301.5 220.3 L302.5 217.93 L303.5 217.75 L304.5 220.11 L305.5 218.28 L306.5 220.07 L307.5 217.79 L308.5 219.99 L309.5 220.04 L310.5 218.23 L311.5 218.85 L312.5 219.8 L313.5 219.96 L314.5 220 L315.5 219.75 L316.5 217.78 L317.5 219.51 L318.5 219.75 L319.5 218.08 L320.5 220.04 L321.5 219.75 L322.5 218.29 L323.5 219.53 L324.5 220.07 L325.5 219.67 L326.5 219.33 L327.5 217.81 L328.5 218.81 L329.5 219.82 L330.5 217.94 L331.5 219.65 L332.5 218.38 L333.5 219.79 L334.5 218.01 L335.5 219.2 L336.5 220.2 L337.5 219.68 L338.5 219.63 L339.5 218.75 L340.5 219.84 L341.5 220.12 L342.5 218.85 L343.5 218.7 L344.5 217.91 L345.5 220.86 L346.5 219.74 L347.5 220.44 L348.5 219.41 L349.5 219.96 L350.5 218.35 L351.5 219.1 L352.5 220.54 L353.5 220.85 L354.5 219.08 L355.5 220.84 L356.5 219.65 L357.5 220.07 L358.5 220.7 L359.5 218.98 L360.5 218.98 L361.5 218.84 L362.5 219.99 L363.5 218.56 L364.5 219.82 L365.5 218.65 L366.5 219.28 L367.5 219.39 L368.5 220.69 L369.5 218.32 L370.5 219.01 L371.5 218.99 L372.5 219.75 L373.5 220.68 L374.5 220.82 L375.5 219.65 L376.5 219.08 L377.5 219.3 L378.5 220.23 L379.5 220.12 L380.5 220.37 L381.5 218.55 L382.5 219.75 L383.5 220.05 L384.5 220.38 L385.5 218.8 L386.5 218.61 L387.5 219.38 L388.5 220.55 L389.5 218.72 L390.5 219.05 L391.5 220.18 L392.5 219.73 L393.5 220.34 L394.5 219.27 L395.5 220.08 L396.5 218.35 L397.5 220.71 L398.5 218.63 L399.5 219.06 L400.5 220.1 L401.5 220.85 L402.5 219.72 L403.5 218.74 L404.5 220.53 L405.5 219.26 L406.5 219.26 L407.5 218.8 L408.5 219.12 L409.5 219.66 L410.5 220.87 L411.5 219.04 L412.5 220.19 L413.5 219.09 L414.5 219.3 L415.5 219.88 L416.5 218.54 L417.5 218.48 L418.5 220.56 L419.5 219.27 L420.5 219.92 L421.5 218.61 L422.5 218.44 L423.5 219.21 L424.5 219.02 L425.5 219.23 L426.5 220.35 L427.5 218.35 L428.5 219.5 L429.5 220.07 L430.5 218.67 L431.5 220.68 L432.5 219.47 L433.5 219.63 L434.5 218.8 L435.5 218.82 L436.5 220.03 L437.5 220.53 L438.5 219.56 L439.5 218.72 L440.5 218.44 L441.5 218.43 L442.5 220.32 L443.5 220.15 L444.5 219.24 L445.5 218.71 L446.5 220.09 L447.5 218.7 L448.5 220.36 L449.5 218.38 L450.5 219.41 L451.5 219.51 L452.5 219.33 L453.5 218.38 L454.5 219.86 L455.5 219.44 L456.5 219.1 L457.5 219.5 L458.5 218.41 L459.5 220.2 L460.5 220.47 L461.5 218.68 L462.5 219.56 L463.5 220.3 L464.5 218.39 L465.5 218.77 L466.5 220.3 L467.5 219.01 L468.5 219.88 L469.5 220.53 L470.5 220.48 L471.5 220.15 L472.5 219.42 L473.5 219.82 L474.5 219.42 L475.5 220.27 L476.5 219.14 L477.5 218.59 L478.5 218.57 L479.5 218.87 L480.5 218.45 L481.5 219.98 L482.5 220.23 L483.5 218.49 L484.5 220.18 L485.5 220.13 L486.5 218.64 L487.5 218.75 L488.5 219.75 L489.5 220.75 L490.5 219.03 L491.5 218.28 L492.5 219.49 L493.5 219.49 L494.5 220.31 L495.5 220.52 L496.5 219.37 L497.5 219.32 L498.5 220.32 L499.5 218.62 L500.5 218.39 L501.5 220.64 L502.5 219.6 L503.5 219.95 L504.5 219.46 L505.5 219.24 L506.5 218.98 L507.5 220.33 L508.5 218.88 L509.5 220.29 L510.5 219.47 L511.5 218.48 L512.5 218.97 L513.5 219.16 L514.5 219.24 L515.5 218.25 L516.5 220.13 L517.5 218.86 L518.5 218.68 L519.5 218.47 L520.5 218.99 L521.5 218.81 L522.5 218.92 L523.5 219.91 L524.5 220.77 L525.5 219.14 L526.5 220.2 L527.5 219.07 L528.5 219.08 L529.5 219.41 L530.5 218.2 L531.5 218.98 L532.5 218.25 L533.5 219.2 L534.5 220.13 L535.5 220.67 L536.5 219.82 L537.5 220.15 L538.5 219.37 L539.5 218.29 L540.5 218.21 L541.5 218.7 L542.5 219.25 L543.5 220.68 L544.5 220.38 L545.5 220.36 L546.5 219.21 L547.5 218.34 L548.5 219.43 L549.5 219.85 L550.5 219.1 L551.5 220.06 L552.5 220.03 L553.5 220.16 L554.5 220.39 L555.5 219.79 L556.5 218.85 L557.5 218.23 L558.5 220.61 L559.5 219.68 L560.5 218.27 L561.5 219.44 L562.5 218.92 L563.5 218.26 L564.5 219.23 L565.5 219.18 L566.5 220.27 L567.5 219.43 L568.5 219.65 L569.5 219.62 L570.5 219.29 L571.5 218.78 L572.5 218.21 L573.5 218.89 L574.5 220.5 L575.5 218.76 L576.5 219.87 L577.5 219.02 L578.5 219.26 L579.5 218.84 L580.5 220.15 L581.5 218.42 L582.5 220.7 L583.5 220.1 L584.5 219.18 L585.5 219.39 L586.5 220.58 L587.5 219.37 L588.5 219.83 L589.5 220.25 L590.5 218.86 L591.5 220.61 L592.5 218.7 L593.5 218.8 L594.5 219.7 L595.5 218.69 L596.5 219.1 L597.5 219.95 L598.5 218.86 L599.5 219.69 L600.5 220.55 L601.5 220.6 L602.5 219.33 L603.5 219.02 L604.5 218.78 L605.5 220.25 L606.5 220.59 L607.5 218.92 L608.5 220.06 L609.5 219.87 L610.5 219.85 L611.5 218.96 L612.5 218.41 L613.5 218.43 L614.5 218.71 L615.5 219.97 L616.5 218.37 L617.5 220.15 L618.5 219.85 L619.5 219.77 L620.5 220.29 L621.5 218.73 L622.5 218.63 L623.5 220.34 L624.5 218.51 L625.5 220.74 L626.5 219.39 L627.5 218.29 L628.5 218.71 L629.5 219.38 L630.5 220.58 L631.5 218.88 L632.5 220.58 L633.5 220.43 L634.5 219.11 L635.5 220.23 L636.5 219.44 L637.5 219.77 L638.5 218.28 L639.5 219.52 L640.5 218.93 L641.5 218.42 L642.5 218.65 L643.5 218.58 L644.5 218.63 L645.5 218.31 L646.5 219.44 L647.5 218.71 L648.5 219.71 L649.5 218.87 L650.5 219.82 L651.5 220.27 L652.5 220.04 L653.5 220.65 L654.5 220.5 L654.5 228.68 L653.5 227.8 L652.5 229.52 L651.5 228.1 L650.5 227.44 L649.5 229.58 L648.5 227.38 L647.5 228.1 L646.5 228.85 L645.5 228.66 L644.5 229.31 L643.5 229.1 L642.5 228.73 L641.5 228.07 L640.5 228.84 L639.5 228.4 L638.5 228.75 L637.5 227.88 L636.5 228.99 L635.5 228.99 L634.5 227.64 L633.5 228.94 L632.5 228.65 L631.5 229.34 L630.5 227.21 L629.5 229.05 L628.5 227.17 L627.5 228.69 L626.5 228.48 L625.5 228.34 L624.5 227.73 L623.5 228.97 L622.5 228.46 L621.5 228.41 L620.5 228.47 L619.5 228.01 L618.5 227.94 L617.5 227.94 L616.5 229.33 L615.5 228.04 L614.5 227.79 L613.5 228.14 L612.5 229.44 L611.5 228.48 L610.5 227.31 L609.5 228.89 L608.5 227.37 L607.5 228.8 L606.5 227.79 L605.5 228.72 L604.5 227.2 L603.5 227.78 L602.5 228.26 L601.5 227.22 L600.5 229.28 L599.5 227.96 L598.5 229.39 L597.5 228.43 L596.5 229.57 L595.5 227.96 L594.5 227.67 L593.5 227.55 L592.5 228.62 L591.5 227.31 L590.5 229.18 L589.5 227.89 L588.5 228.24 L587.5 228.64 L586.5 228.76 L585.5 227.19 L584.5 227.27 L583.5 228.11 L582.5 227.16 L581.5 229.28 L580.5 229.55 L579.5 227.49 L578.5 228.65 L577.5 228.47 L576.5 227.71 L575.5 228.62 L574.5 229.32 L573.5 227.62 L572.5 229.48 L571.5 228.38 L570.5 228.09 L569.5 227.68 L568.5 228.74 L567.5 227.32 L566.5 227.14 L565.5 228.18 L564.5 227.3 L563.5 229.12 L562.5 228.22 L561.5 229.44 L560.5 227.63 L559.5 228.24 L558.5 229.35 L557.5 229.46 L556.5 227.13 L555.5 229.33 L554.5 228.96 L553.5 227.11 L552.5 227.04 L551.5 228.86 L550.5 228.46 L549.5 227.74 L548.5 228.55 L547.5 228.09 L546.5 227.15 L545.5 228.29 L544.5 228.23 L543.5 229.42 L542.5 228.97 L541.5 227.2 L540.5 228.66 L539.5 228.48 L538.5 228.32 L537.5 229.35 L536.5 227.26 L535.5 227.51 L534.5 228.04 L533.5 228.92 L532.5 227.06 L531.5 228.98 L530.5 228.67 L529.5 228.01 L528.5 228.48 L527.5 227.88 L526.5 229.46 L525.5 228.62 L524.5 227.92 L523.5 228.22 L522.5 227.18 L521.5 228.05 L520.5 228.99 L519.5 229.29 L518.5 228.05 L517.5 229.02 L516.5 229.37 L515.5 229.09 L514.5 228.31 L513.5 228.05 L512.5 229.24 L511.5 229.08 L510.5 227.04 L509.5 227.43 L508.5 228.05 L507.5 228.18 L506.5 229.2 L505.5 227.03 L504.5 228.12 L503.5 228.21 L502.5 228.99 L501.5 229.47 L500.5 227.25 L499.5 229.57 L498.5 227.53 L497.5 227.38 L496.5 228.34 L495.5 227.1 L494.5 227.18 L493.5 228.78 L492.5 228.97 L491.5 227.3 L490.5 229.37 L489.5 227.52 L488.5 228.78 L487.5 227.33 L486.5 228.1 L485.5 227.25 L484.5 228.89 L483.5 227.35 L482.5 229.6 L481.5 229.4 L480.5 227.82 L479.5 229.11 L478.5 227.6 L477.5 228.59 L476.5 228.38 L475.5 228.64 L474.5 227.42 L473.5 228.07 L472.5 228.14 L471.5 227.51 L470.5 228.33 L469.5 228.9 L468.5 228.61 L467.5 227.84 L466.5 227.59 L465.5 227.06 L464.5 227.34 L463.5 228.61 L462.5 227.82 L461.5 229.34 L460.5 228.13 L459.5 229.53 L458.5 230.7 L457.5 229.38 L456.5 228.47 L455.5 229.58 L454.5 230.38 L453.5 229.64 L452.5 228.37 L451.5 229.61 L450.5 228.82 L449.5 229.66 L448.5 230.51 L447.5 230.64 L446.5 229.29 L445.5 229.76 L444.5 229.66 L443.5 230.19 L442.5 229.67 L441.5 228.52 L440.5 229.58 L439.5 230.09 L438.5 230.18 L437.5 228.69 L436.5 230.35 L435.5 228.75 L434.5 228.47 L433.5 228.37 L432.5 230.3 L431.5 229.45 L430.5 229.21 L429.5 230.67 L428.5 230.36 L427.5 230.84 L426.5 230.64 L425.5 230.17 L424.5 230.43 L423.5 228.83 L422.5 229.51 L421.5 230.37 L420.5 229.78 L419.5 230.67 L418.5 229.48 L417.5 230.18 L416.5 228.53 L415.5 230.36 L414.5 230.27 L413.5 229.65 L412.5 229.2 L411.5 228.77 L410.5 229.53 L409.5 228.76 L408.5 228.82 L407.5 230.79 L406.5 230 L405.5 229.46 L404.5 228.42 L403.5 228.92 L402.5 228.36 L401.5 228.65 L400.5 230.36 L399.5 229.78 L398.5 228.41 L397.5 228.38 L396.5 229.48 L395.5 230.48 L394.5 229.58 L393.5 229.38 L392.5 229.02 L391.5 228.74 L390.5 230.77 L389.5 230.51 L388.5 229.59 L387.5 229.12 L386.5 229.3 L385.5 230.68 L384.5 229.42 L383.5 230.03 L382.5 230.62 L381.5 230.02 L380.5 228.74 L379.5 230.06 L378.5 228.33 L377.5 230.69 L376.5 229.59 L375.5 228.9 L374.5 229.86 L373.5 230.25 L372.5 230.48 L371.5 229.81 L370.5 229.31 L369.5 230.59 L368.5 229.96 L367.5 229.88 L366.5 229.29 L365.5 229.79 L364.5 230.36 L363.5 230.56 L362.5 230.08 L361.5 230.68 L360.5 230.13 L359.5 230.64 L358.5 229.72 L357.5 230.9 L356.5 230.2 L355.5 229.95 L354.5 230.8 L353.5 230.67 L352.5 228.39 L351.5 229.82 L350.5 230.01 L349.5 230.62 L348.5 228.64 L347.5 229.26 L346.5 228.46 L345.5 229 L344.5 229.43 L343.5 229.63 L342.5 231.12 L341.5 229.49 L340.5 230.77 L339.5 229.66 L338.5 231.04 L337.5 230.73 L336.5 231.4 L335.5 229.17 L334.5 230.47 L333.5 231.37 L332.5 231.35 L331.5 229.39 L330.5 231.03 L329.5 229.3 L328.5 231.15 L327.5 230.16 L326.5 230.08 L325.5 230.46 L324.5 230.42 L323.5 229.09 L322.5 229.76 L321.5 229.57 L320.5 231.47 L319.5 230.57 L318.5 229.93 L317.5 231.2 L316.5 230.99 L315.5 229.6 L314.5 229.99 L313.5 230.57 L312.5 230.8 L311.5 230.06 L310.5 229.36 L309.5 229.06 L308.5 229.54 L307.5 230.87 L306.5 229.76 L305.5 229.6 L304.5 230.54 L303.5 229.93 L302.5 230.12 L301.5 229.45 L300.5 231.1 L299.5 229.9 L298.5 229.94 L297.5 229.08 L296.5 229.5 L295.5 230.74 L294.5 231.49 L293.5 229.62 L292.5 230.62 L291.5 230.56 L290.5 231.09 L289.5 230.11 L288.5 229.53 L287.5 229.05 L286.5 228.94 L285.5 230.1 L284.5 230.81 L283.5 228.21 L282.5 230.01 L281.5 228.49 L280.5 229.56 L279.5 228.63 L278.5 228.63 L277.5 228.11 L276.5 228.16 Z" fill="#4d4d4d"/>
<rect x="568.52" y="217.01" width="3.6" height="3.6" fill="#4d4d4d"/>
<rect x="560.11" y="217.44" width="3.6" height="3.6" fill="#4d4d4d"/>
<rect x="617.73" y="217.79" width="3.6" height="3.6" fill="#4d4d4d"/>
<rect x="355.12" y="227.58" width="3.6" height="3.6" fill="#4d4d4d"/>
<rect x="369.07" y="228.07" width="3.6" height="3.6" fill="#4d4d4d"/>
<rect x="364.84" y="217.14" width="3.6" height="3.6" fill="#4d4d4d"/>
<rect x="430.72" y="228.11" width="3.6" height="3.6" fill="#4d4d4d"/>
<rect x="629.8" y="227.11" width="3.6" height="3.6" fill="#4d4d4d"/>
<rect x="461.08" y="227.19" width="3.6" height="3.6" fill="#4d4d4d"/>
<rect x="408.43" y="217.67" width="3.6" height="3.6" fill="#4d4d4d"/>
<rect x="363.75" y="218.02" width="3.6" height="3.6" fill="#4d4d4d"/>
<rect x="331.75" y="229.17" width="3.6" height="3.6" fill="#4d4d4d"/>
<rect x="575.45" y="227.02" width="3.6" height="3.6" fill="#4d4d4d"/>
<rect x="303.58" y="216.54" width="3.6" height="3.6" fill="#4d4d4d"/>
<rect x="604.72" y="226.59" width="3.6" height="3.6" fill="#4d4d4d"/>
<rect x="373.18" y="228.09" width="3.6" height="3.6" fill="#4d4d4d"/>
<rect x="340.24" y="216.7" width="3.6" height="3.6" fill="#4d4d4d"/>
<rect x="335.61" y="216.87" width="3.6" height="3.6" fill="#4d4d4d"/>
<rect x="648.66" y="226.67" width="3.6" height="3.6" fill="#4d4d4d"/>
<rect x="301.74" y="217.7" width="3.6" height="3.6" fill="#4d4d4d"/>
<rect x="585.3" y="217.13" width="3.6" height="3.6" fill="#4d4d4d"/>
<rect x="312.62" y="228.7" width="3.6" height="3.6" fill="#4d4d4d"/>
<rect x="477.01" y="226.9" width="3.6" height="3.6" fill="#4d4d4d"/>
<rect x="312.77" y="227.92" width="3.6" height="3.6" fill="#4d4d4d"/>
<rect x="351.48" y="217.11" width="3.6" height="3.6" fill="#4d4d4d"/>
<rect x="315.76" y="228.17" width="3.6" height="3.6" fill="#4d4d4d"/>
<rect x="482.7" y="226.2" width="3.6" height="3.6" fill="#4d4d4d"/>
<rect x="589.21" y="226.41" width="3.6" height="3.6" fill="#4d4d4d"/>
<rect x="431.82" y="228.6" width="3.6" height="3.6" fill="#4d4d4d"/>
<rect x="528.38" y="217.73" width="3.6" height="3.6" fill="#4d4d4d"/>
<rect x="535.74" y="217.33" width="3.6" height="3.6" fill="#4d4d4d"/>
<rect x="531.59" y="217.35" width="3.6" height="3.6" fill="#4d4d4d"/>
<rect x="286.76" y="228.83" width="3.6" height="3.6" fill="#4d4d4d"/>
<rect x="457.57" y="228.03" width="3.6" height="3.6" fill="#4d4d4d"/>
<rect x="451.23" y="217.19" width="3.6" height="3.6" fill="#4d4d4d"/>
<rect x="593.82" y="217.03" width="3.6" height="3.6" fill="#4d4d4d"/>
<rect x="338.34" y="229.12" width="3.6" height="3.6" fill="#4d4d4d"/>
<rect x="558.85" y="226.98" width="3.6" height="3.6" fill="#4d4d4d"/>
<rect x="487.21" y="217.87" width="3.6" height="3.6" fill="#4d4d4d"/>
<rect x="355.98" y="217.87" width="3.6" height="3.6" fill="#4d4d4d"/>
<rect x="630.92" y="226.94" width="3.6" height="3.6" fill="#4d4d4d"/>
<rect x="404.58" y="227.42" width="3.6" height="3.6" fill="#4d4d4d"/>
<rect x="334.16" y="217.53" width="3.6" height="3.6" fill="#4d4d4d"/>
<rect x="514.81" y="217.97" width="3.6" height="3.6" fill="#4d4d4d"/>
<rect x="430.64" y="228.07" width="3.6" height="3.6" fill="#4d4d4d"/>
<rect x="315.45" y="217.66" width="3.6" height="3.6" fill="#4d4d4d"/>
<rect x="646.56" y="226.53" width="3.6" height="3.6" fill="#4d4d4d"/>
<rect x="309.02" y="229.1" width="3.6" height="3.6" fill="#4d4d4d"/>
<rect x="333.51" y="216.7" width="3.6" height="3.6" fill="#4d4d4d"/>
<rect x="585.19" y="226.63" width="3.6" height="3.6" fill="#4d4d4d"/>
<rect x="622.17" y="217.25" width="3.6" height="3.6" fill="#4d4d4d"/>
<rect x="508.43" y="227.28" width="3.6" height="3.6" fill="#4d4d4d"/>
<rect x="573.59" y="217.86" width="3.6" height="3.6" fill="#4d4d4d"/>
<rect x="351.85" y="228.15" width="3.6" height="3.6" fill="#4d4d4d"/>
<rect x="321.42" y="228.17" width="3.6" height="3.6" fill="#4d4d4d"/>
<rect x="404.99" y="228.37" width="3.6" height="3.6" fill="#4d4d4d"/>
<rect x="507.82" y="217.87" width="3.6" height="3.6" fill="#4d4d4d"/>
<rect x="481.03" y="226.71" width="3.6" height="3.6" fill="#4d4d4d"/>
<rect x="412.29" y="217.55" width="3.6" height="3.6" fill="#4d4d4d"/>
<rect x="355.32" y="217.56" width="3.6" height="3.6" fill="#4d4d4d"/>
<rect x="292.06" y="216.69" width="3.6" height="3.6" fill="#4d4d4d"/>
<rect x="332.49" y="228.65" width="3.6" height="3.6" fill="#4d4d4d"/>
<rect x="539.43" y="226.12" width="3.6" height="3.6" fill="#4d4d4d"/>
<rect x="604.16" y="226.6" width="3.6" height="3.6" fill="#4d4d4d"/>
<rect x="327.97" y="217.39" width="3.6" height="3.6" fill="#4d4d4d"/>
<rect x="492.28" y="217.47" width="3.6" height="3.6" fill="#4d4d4d"/>
<rect x="379.75" y="228.08" width="3.6" height="3.6" fill="#4d4d4d"/>
<rect x="327.46" y="217.32" width="3.6" height="3.6" fill="#4d4d4d"/>
<rect x="613.2" y="217.21" width="3.6" height="3.6" fill="#4d4d4d"/>
<rect x="416.18" y="218.06" width="3.6" height="3.6" fill="#4d4d4d"/>
<rect x="484.36" y="217.61" width="3.6" height="3.6" fill="#4d4d4d"/>
<rect x="431.05" y="217.9" width="3.6" height="3.6" fill="#4d4d4d"/>
<rect x="529.89" y="226.8" width="3.6" height="3.6" fill="#4d4d4d"/>
<rect x="518.48" y="217.99" width="3.6" height="3.6" fill="#4d4d4d"/>
<rect x="434.23" y="218.11" width="3.6" height="3.6" fill="#4d4d4d"/>
<rect x="424.77" y="227.53" width="3.6" height="3.6" fill="#4d4d4d"/>
<rect x="474" y="226.32" width="3.6" height="3.6" fill="#4d4d4d"/>
<rect x="626" y="217.37" width="3.6" height="3.6" fill="#4d4d4d"/>
<rect x="296.17" y="217.18" width="3.6" height="3.6" fill="#4d4d4d"/>
<rect x="465.8" y="217.59" width="3.6" height="3.6" fill="#4d4d4d"/>
<rect x="434.02" y="228.28" width="3.6" height="3.6" fill="#4d4d4d"/>
<rect x="461.46" y="227.09" width="3.6" height="3.6" fill="#4d4d4d"/>
<rect x="597.71" y="227.07" width="3.6" height="3.6" fill="#4d4d4d"/>
<rect x="325.51" y="216.52" width="3.6" height="3.6" fill="#4d4d4d"/>
<rect x="476.28" y="226.55" width="3.6" height="3.6" fill="#4d4d4d"/>
<rect x="291.13" y="217.32" width="3.6" height="3.6" fill="#4d4d4d"/>
<rect x="509.58" y="226.95" width="3.6" height="3.6" fill="#4d4d4d"/>
<rect x="502.69" y="227.15" width="3.6" height="3.6" fill="#4d4d4d"/>
<rect x="605.83" y="218.04" width="3.6" height="3.6" fill="#4d4d4d"/>
<rect x="447.13" y="228.56" width="3.6" height="3.6" fill="#4d4d4d"/>
<rect x="457.74" y="217.62" width="3.6" height="3.6" fill="#4d4d4d"/>
<rect x="370.45" y="228.15" width="3.6" height="3.6" fill="#4d4d4d"/>
<rect x="629.15" y="216.9" width="3.6" height="3.6" fill="#4d4d4d"/>
<rect x="551.86" y="227.13" width="3.6" height="3.6" fill="#4d4d4d"/>
<rect x="437.7" y="218.01" width="3.6" height="3.6" fill="#4d4d4d"/>
<rect x="557.7" y="217.03" width="3.6" height="3.6" fill="#4d4d4d"/>
<rect x="318.57" y="217.54" width="3.6" height="3.6" fill="#4d4d4d"/>
<rect x="480.57" y="226" width="3.6" height="3.6" fill="#4d4d4d"/>
<rect x="372.21" y="227.33" width="3.6" height="3.6" fill="#4d4d4d"/>
<rect x="345.67" y="228.46" width="3.6" height="3.6" fill="#4d4d4d"/>
<rect x="583.1" y="226.18" width="3.6" height="3.6" fill="#4d4d4d"/>
<rect x="537.65" y="218.14" width="3.6" height="3.6" fill="#4d4d4d"/>
<rect x="293.69" y="228.3" width="3.6" height="3.6" fill="#4d4d4d"/>
<rect x="466.12" y="227.14" width="3.6" height="3.6" fill="#4d4d4d"/>
<rect x="356.99" y="218.05" width="3.6" height="3.6" fill="#4d4d4d"/>
<rect x="591.39" y="227.17" width="3.6" height="3.6" fill="#4d4d4d"/>
<rect x="288.12" y="217.01" width="3.6" height="3.6" fill="#4d4d4d"/>
<rect x="369.36" y="217.45" width="3.6" height="3.6" fill="#4d4d4d"/>
<rect x="395.14" y="228.55" width="3.6" height="3.6" fill="#4d4d4d"/>
<rect x="383.27" y="228.23" width="3.6" height="3.6" fill="#4d4d4d"/>
<rect x="331.97" y="228.44" width="3.6" height="3.6" fill="#4d4d4d"/>
<rect x="344.71" y="227.46" width="3.6" height="3.6" fill="#4d4d4d"/>
<rect x="537.23" y="226.24" width="3.6" height="3.6" fill="#4d4d4d"/>
<rect x="369.08" y="228.33" width="3.6" height="3.6" fill="#4d4d4d"/>
<rect x="419.66" y="217.53" width="3.6" height="3.6" fill="#4d4d4d"/>
<rect x="366.7" y="228.46" width="3.6" height="3.6" fill="#4d4d4d"/>
<rect x="348.83" y="217.94" width="3.6" height="3.6" fill="#4d4d4d"/>
<rect x="518.33" y="217.6" width="3.6" height="3.6" fill="#4d4d4d"/>
<rect x="310.34" y="217.01" width="3.6" height="3.6" fill="#4d4d4d"/>
<rect x="298.93" y="228.6" width="3.6" height="3.6" fill="#4d4d4d"/>
<rect x="414.4" y="213.8" width="3.2" height="3.2" fill="#4f4f4f"/>
<rect x="448" y="209.4" width="3.2" height="3.2" fill="#4f4f4f"/>
<rect x="459.6" y="213.3" width="3.2" height="3.2" fill="#4f4f4f"/>
<rect x="532.8" y="198.7" width="3.2" height="3.2" fill="#4f4f4f"/>
<rect x="551.1" y="195.3" width="3.2" height="3.2" fill="#4f4f4f"/>
<rect x="548.8" y="207.3" width="3.2" height="3.2" fill="#4f4f4f"/>
<rect x="555.8" y="209.2" width="3.2" height="3.2" fill="#4f4f4f"/>
<rect x="545.5" y="212" width="3.2" height="3.2" fill="#4f4f4f"/>
<rect x="523.9" y="211.1" width="3.2" height="3.2" fill="#4f4f4f"/>
<rect x="485.6" y="212" width="3.2" height="3.2" fill="#4f4f4f"/>
<rect x="491.1" y="212" width="3.2" height="3.2" fill="#4f4f4f"/>
<rect x="511.4" y="212" width="3.2" height="3.2" fill="#4f4f4f"/>
<rect x="580.7" y="214.8" width="3.2" height="3.2" fill="#4f4f4f"/>
<rect x="594.6" y="215.6" width="3.2" height="3.2" fill="#4f4f4f"/>
<rect x="637.6" y="208.4" width="3.2" height="3.2" fill="#4f4f4f"/>
<rect x="642.6" y="204.2" width="3.2" height="3.2" fill="#4f4f4f"/>
<rect x="642.6" y="211.1" width="3.2" height="3.2" fill="#4f4f4f"/>
<rect x="551.1" y="239.2" width="3.2" height="3.2" fill="#4f4f4f"/>
<rect x="548.8" y="232.8" width="3.2" height="3.2" fill="#4f4f4f"/>
<rect x="556.6" y="234.2" width="3.2" height="3.2" fill="#4f4f4f"/>
<rect x="622.6" y="237.5" width="3.2" height="3.2" fill="#4f4f4f"/>
<rect x="530.8" y="231.4" width="3.2" height="3.2" fill="#4f4f4f"/>
<rect x="485.6" y="230.6" width="3.2" height="3.2" fill="#4f4f4f"/>
<rect x="492.8" y="231.4" width="3.2" height="3.2" fill="#4f4f4f"/>
<rect x="511.4" y="230.6" width="3.2" height="3.2" fill="#4f4f4f"/>
<rect x="523.3" y="230.6" width="3.2" height="3.2" fill="#4f4f4f"/>
<rect x="650.1" y="230" width="3.2" height="3.2" fill="#4f4f4f"/>
<rect x="532.9" y="257.6" width="3.2" height="3.2" fill="#4f4f4f"/>
<rect x="622.7" y="275.9" width="3.2" height="3.2" fill="#4f4f4f"/>
<rect x="274.9" y="314" width="3.2" height="3.2" fill="#4f4f4f"/>
<line x1="534.5" y1="200.3" x2="534.5" y2="259.2" stroke="#777" stroke-width="0.6" />
<line x1="624.3" y1="239.1" x2="624.3" y2="277.5" stroke="#777" stroke-width="0.6" />
<line x1="552.7" y1="196.9" x2="552.7" y2="215" stroke="#777" stroke-width="0.6" />
<line x1="449.6" y1="211" x2="449.6" y2="220" stroke="#777" stroke-width="0.6" />
<rect x="273.2" y="228.4" width="5.6" height="5.6" fill="#2a6fdc"/>
<rect x="622.2" y="287.4" width="4.6" height="4.6" fill="#2a6fdc"/>
<path d="M654.5 194.8 H276.2 V340 H654.5" fill="none" stroke="#2e2e2e" stroke-width="1"/>
<line x1="654.5" y1="194.8" x2="654.5" y2="340" stroke="#9a9a9a" stroke-width="1.2" />
<text x="270.2" y="343.1" font-size="9.8" fill="#1a1a1a" stroke="#1a1a1a" stroke-width="0.28" text-anchor="end" textLength="4.91" lengthAdjust="spacingAndGlyphs" ><tspan>0</tspan></text>
<line x1="276.2" y1="330.93" x2="278.7" y2="330.93" stroke="#2e2e2e" stroke-width="0.9" />
<line x1="276.2" y1="321.85" x2="281" y2="321.85" stroke="#2e2e2e" stroke-width="0.9" />
<text x="270.2" y="324.95" font-size="9.8" fill="#1a1a1a" stroke="#1a1a1a" stroke-width="0.28" text-anchor="end" textLength="9.81" lengthAdjust="spacingAndGlyphs" ><tspan>30</tspan></text>
<line x1="276.2" y1="312.77" x2="278.7" y2="312.77" stroke="#2e2e2e" stroke-width="0.9" />
<line x1="276.2" y1="303.7" x2="281" y2="303.7" stroke="#2e2e2e" stroke-width="0.9" />
<text x="270.2" y="306.8" font-size="9.8" fill="#1a1a1a" stroke="#1a1a1a" stroke-width="0.28" text-anchor="end" textLength="9.81" lengthAdjust="spacingAndGlyphs" ><tspan>60</tspan></text>
<line x1="276.2" y1="294.62" x2="278.7" y2="294.62" stroke="#2e2e2e" stroke-width="0.9" />
<line x1="276.2" y1="285.55" x2="281" y2="285.55" stroke="#2e2e2e" stroke-width="0.9" />
<text x="270.2" y="288.65" font-size="9.8" fill="#1a1a1a" stroke="#1a1a1a" stroke-width="0.28" text-anchor="end" textLength="9.81" lengthAdjust="spacingAndGlyphs" ><tspan>90</tspan></text>
<line x1="276.2" y1="276.48" x2="278.7" y2="276.48" stroke="#2e2e2e" stroke-width="0.9" />
<line x1="276.2" y1="267.4" x2="281" y2="267.4" stroke="#2e2e2e" stroke-width="0.9" />
<text x="270.2" y="270.5" font-size="9.8" fill="#1a1a1a" stroke="#1a1a1a" stroke-width="0.28" text-anchor="end" textLength="14.72" lengthAdjust="spacingAndGlyphs" ><tspan>120</tspan></text>
<line x1="276.2" y1="258.32" x2="278.7" y2="258.32" stroke="#2e2e2e" stroke-width="0.9" />
<line x1="276.2" y1="249.25" x2="281" y2="249.25" stroke="#2e2e2e" stroke-width="0.9" />
<text x="270.2" y="252.35" font-size="9.8" fill="#1a1a1a" stroke="#1a1a1a" stroke-width="0.28" text-anchor="end" textLength="14.72" lengthAdjust="spacingAndGlyphs" ><tspan>150</tspan></text>
<line x1="276.2" y1="240.18" x2="278.7" y2="240.18" stroke="#2e2e2e" stroke-width="0.9" />
<line x1="276.2" y1="231.1" x2="281" y2="231.1" stroke="#2e2e2e" stroke-width="0.9" />
<text x="270.2" y="234.2" font-size="9.8" fill="#1a1a1a" stroke="#1a1a1a" stroke-width="0.28" text-anchor="end" textLength="14.72" lengthAdjust="spacingAndGlyphs" ><tspan>180</tspan></text>
<line x1="276.2" y1="222.03" x2="278.7" y2="222.03" stroke="#2e2e2e" stroke-width="0.9" />
<line x1="276.2" y1="212.95" x2="281" y2="212.95" stroke="#2e2e2e" stroke-width="0.9" />
<text x="270.2" y="216.05" font-size="9.8" fill="#1a1a1a" stroke="#1a1a1a" stroke-width="0.28" text-anchor="end" textLength="14.72" lengthAdjust="spacingAndGlyphs" ><tspan>210</tspan></text>
<line x1="276.2" y1="203.88" x2="278.7" y2="203.88" stroke="#2e2e2e" stroke-width="0.9" />
<text x="270.2" y="197.9" font-size="9.8" fill="#1a1a1a" stroke="#1a1a1a" stroke-width="0.28" text-anchor="end" textLength="14.72" lengthAdjust="spacingAndGlyphs" ><tspan>240</tspan></text>
<text x="656.3" y="343.1" font-size="9.8" fill="#1a1a1a" stroke="#1a1a1a" stroke-width="0.28" textLength="9.81" lengthAdjust="spacingAndGlyphs" ><tspan>80</tspan></text>
<line x1="654.5" y1="325.48" x2="652" y2="325.48" stroke="#555" stroke-width="0.9" />
<line x1="654.5" y1="310.96" x2="649.7" y2="310.96" stroke="#555" stroke-width="0.9" />
<text x="656.3" y="314.06" font-size="9.8" fill="#1a1a1a" stroke="#1a1a1a" stroke-width="0.28" textLength="9.81" lengthAdjust="spacingAndGlyphs" ><tspan>85</tspan></text>
<line x1="654.5" y1="296.44" x2="652" y2="296.44" stroke="#555" stroke-width="0.9" />
<line x1="654.5" y1="281.92" x2="649.7" y2="281.92" stroke="#555" stroke-width="0.9" />
<text x="656.3" y="285.02" font-size="9.8" fill="#1a1a1a" stroke="#1a1a1a" stroke-width="0.28" textLength="9.81" lengthAdjust="spacingAndGlyphs" ><tspan>90</tspan></text>
<line x1="654.5" y1="267.4" x2="652" y2="267.4" stroke="#555" stroke-width="0.9" />
<line x1="654.5" y1="252.88" x2="649.7" y2="252.88" stroke="#555" stroke-width="0.9" />
<text x="656.3" y="255.98" font-size="9.8" fill="#1a1a1a" stroke="#1a1a1a" stroke-width="0.28" textLength="9.81" lengthAdjust="spacingAndGlyphs" ><tspan>95</tspan></text>
<line x1="654.5" y1="238.36" x2="652" y2="238.36" stroke="#555" stroke-width="0.9" />
<line x1="654.5" y1="223.84" x2="649.7" y2="223.84" stroke="#555" stroke-width="0.9" />
<text x="656.3" y="226.94" font-size="9.8" fill="#1a1a1a" stroke="#1a1a1a" stroke-width="0.28" textLength="14.72" lengthAdjust="spacingAndGlyphs" ><tspan>100</tspan></text>
<line x1="654.5" y1="209.32" x2="652" y2="209.32" stroke="#555" stroke-width="0.9" />
<text x="656.3" y="197.9" font-size="9.8" fill="#1a1a1a" stroke="#1a1a1a" stroke-width="0.28" textLength="14.72" lengthAdjust="spacingAndGlyphs" ><tspan>105</tspan></text>
<text x="276.2" y="353" font-size="9.8" fill="#1a1a1a" stroke="#1a1a1a" stroke-width="0.28" text-anchor="middle" textLength="4.91" lengthAdjust="spacingAndGlyphs" ><tspan>0</tspan></text>
<line x1="299.1" y1="340" x2="299.1" y2="337.5" stroke="#2e2e2e" stroke-width="0.9" />
<line x1="322" y1="340" x2="322" y2="335.2" stroke="#2e2e2e" stroke-width="0.9" />
<text x="322" y="353" font-size="9.8" fill="#1a1a1a" stroke="#1a1a1a" stroke-width="0.28" text-anchor="middle" textLength="14.72" lengthAdjust="spacingAndGlyphs" ><tspan>200</tspan></text>
<line x1="344.9" y1="340" x2="344.9" y2="337.5" stroke="#2e2e2e" stroke-width="0.9" />
<line x1="367.8" y1="340" x2="367.8" y2="335.2" stroke="#2e2e2e" stroke-width="0.9" />
<text x="367.8" y="353" font-size="9.8" fill="#1a1a1a" stroke="#1a1a1a" stroke-width="0.28" text-anchor="middle" textLength="14.72" lengthAdjust="spacingAndGlyphs" ><tspan>400</tspan></text>
<line x1="390.7" y1="340" x2="390.7" y2="337.5" stroke="#2e2e2e" stroke-width="0.9" />
<line x1="413.6" y1="340" x2="413.6" y2="335.2" stroke="#2e2e2e" stroke-width="0.9" />
<text x="413.6" y="353" font-size="9.8" fill="#1a1a1a" stroke="#1a1a1a" stroke-width="0.28" text-anchor="middle" textLength="14.72" lengthAdjust="spacingAndGlyphs" ><tspan>600</tspan></text>
<line x1="436.5" y1="340" x2="436.5" y2="337.5" stroke="#2e2e2e" stroke-width="0.9" />
<line x1="459.4" y1="340" x2="459.4" y2="335.2" stroke="#2e2e2e" stroke-width="0.9" />
<text x="459.4" y="353" font-size="9.8" fill="#1a1a1a" stroke="#1a1a1a" stroke-width="0.28" text-anchor="middle" textLength="14.72" lengthAdjust="spacingAndGlyphs" ><tspan>800</tspan></text>
<line x1="482.3" y1="340" x2="482.3" y2="337.5" stroke="#2e2e2e" stroke-width="0.9" />
<line x1="505.2" y1="340" x2="505.2" y2="335.2" stroke="#2e2e2e" stroke-width="0.9" />
<text x="505.2" y="353" font-size="9.8" fill="#1a1a1a" stroke="#1a1a1a" stroke-width="0.28" text-anchor="middle" textLength="19.62" lengthAdjust="spacingAndGlyphs" ><tspan>1000</tspan></text>
<line x1="528.1" y1="340" x2="528.1" y2="337.5" stroke="#2e2e2e" stroke-width="0.9" />
<line x1="551" y1="340" x2="551" y2="335.2" stroke="#2e2e2e" stroke-width="0.9" />
<text x="551" y="353" font-size="9.8" fill="#1a1a1a" stroke="#1a1a1a" stroke-width="0.28" text-anchor="middle" textLength="19.62" lengthAdjust="spacingAndGlyphs" ><tspan>1200</tspan></text>
<line x1="573.9" y1="340" x2="573.9" y2="337.5" stroke="#2e2e2e" stroke-width="0.9" />
<line x1="596.8" y1="340" x2="596.8" y2="335.2" stroke="#2e2e2e" stroke-width="0.9" />
<text x="596.8" y="353" font-size="9.8" fill="#1a1a1a" stroke="#1a1a1a" stroke-width="0.28" text-anchor="middle" textLength="19.62" lengthAdjust="spacingAndGlyphs" ><tspan>1400</tspan></text>
<line x1="619.7" y1="340" x2="619.7" y2="337.5" stroke="#2e2e2e" stroke-width="0.9" />
<line x1="642.6" y1="340" x2="642.6" y2="335.2" stroke="#2e2e2e" stroke-width="0.9" />
<text x="642.6" y="353" font-size="9.8" fill="#1a1a1a" stroke="#1a1a1a" stroke-width="0.28" text-anchor="middle" textLength="19.62" lengthAdjust="spacingAndGlyphs" ><tspan>1600</tspan></text>
<text x="451.1" y="370.3" font-size="10.6" fill="#1a1a1a" stroke="#1a1a1a" stroke-width="0.28" textLength="27.7" lengthAdjust="spacingAndGlyphs" ><tspan>Cycle</tspan></text>
<text x="251.9" y="313" font-size="10.6" fill="#1a1a1a" stroke="#1a1a1a" stroke-width="0.28" textLength="91" lengthAdjust="spacingAndGlyphs" transform="rotate(-90 251.9 313)" ><tspan>Capacity / mAh·g</tspan><tspan dy="-4.24" font-size="7.21" stroke-width="0.15">−1</tspan></text>
<text x="683.3" y="327" font-size="10.6" fill="#1a1a1a" stroke="#1a1a1a" stroke-width="0.28" textLength="119.5" lengthAdjust="spacingAndGlyphs" transform="rotate(-90 683.3 327)" ><tspan>Coulombic efficiency / %</tspan></text>
<rect x="304.2" y="292.4" width="5.6" height="5.4" fill="#2a6fdc"/>
<circle cx="307.1" cy="306.3" r="3.3" fill="#e8383c"/>
<line x1="296.6" y1="317.3" x2="317.7" y2="317.3" stroke="#aaa" stroke-width="0.7" />
<rect x="305.1" y="315.3" width="4" height="4" fill="#4f4f4f"/>
<text x="320.3" y="298.4" font-size="9.2" fill="#1a1a1a" stroke="#1a1a1a" stroke-width="0.28" textLength="66.2" lengthAdjust="spacingAndGlyphs" ><tspan>Charge capacity</tspan></text>
<text x="320.3" y="309.5" font-size="9.2" fill="#1a1a1a" stroke="#1a1a1a" stroke-width="0.28" textLength="77.4" lengthAdjust="spacingAndGlyphs" ><tspan>Discharge capacity</tspan></text>
<text x="320.3" y="320.6" font-size="9.2" fill="#1a1a1a" stroke="#1a1a1a" stroke-width="0.28" textLength="79.5" lengthAdjust="spacingAndGlyphs" ><tspan>Columbic efficiency</tspan></text>
<text x="282.3" y="272.6" font-size="9.2" fill="#ef6f72" stroke="#ef6f72" stroke-width="0.28" textLength="43.7" lengthAdjust="spacingAndGlyphs" ><tspan>100 cycles</tspan></text>
<text x="282.3" y="284.9" font-size="9.2" fill="#ef6f72" stroke="#ef6f72" stroke-width="0.28" ><tspan>92.67%</tspan></text>
<text x="485.3" y="262.4" font-size="9.2" fill="#ef6f72" stroke="#ef6f72" stroke-width="0.28" textLength="48.3" lengthAdjust="spacingAndGlyphs" ><tspan>1000 cycles</tspan></text>
<text x="485.3" y="273" font-size="9.2" fill="#ef6f72" stroke="#ef6f72" stroke-width="0.28" ><tspan>64.73%</tspan></text>
<text x="602.4" y="274.2" font-size="9.2" fill="#ef6f72" stroke="#ef6f72" stroke-width="0.28" textLength="49.2" lengthAdjust="spacingAndGlyphs" ><tspan>1500 cycles</tspan></text>
<text x="602.4" y="285.9" font-size="9.2" fill="#ef6f72" stroke="#ef6f72" stroke-width="0.28" ><tspan>49.87%</tspan></text>
<text x="438.4" y="309" font-size="9" fill="#1a1a1a" stroke="#1a1a1a" stroke-width="0.28" textLength="137" lengthAdjust="spacingAndGlyphs" ><tspan>2.5-4.2 V </tspan><tspan dy="0" font-style="italic">vs.</tspan><tspan> Li/Li</tspan><tspan dy="-3.6" font-size="6.12" stroke-width="0.15">+</tspan><tspan dy="3.6">, 6.24 mg cm</tspan><tspan dy="-3.6" font-size="6.12" stroke-width="0.15">−2</tspan></text>
<text x="438.4" y="320" font-size="9" fill="#1a1a1a" stroke="#1a1a1a" stroke-width="0.28" textLength="145" lengthAdjust="spacingAndGlyphs" ><tspan>3C, 3.013 mA, 3.84 mA cm</tspan><tspan dy="-3.6" font-size="6.12" stroke-width="0.15">−2</tspan><tspan dy="3.6">, 303K</tspan></text>
</g>
<text x="-0.8" y="10.6" font-size="15" fill="#000" stroke="#000" stroke-width="0" font-weight="bold" ><tspan>a</tspan></text>
<text x="234.2" y="10.7" font-size="15" fill="#000" stroke="#000" stroke-width="0" font-weight="bold" ><tspan>b</tspan></text>
<text x="-0.8" y="199.3" font-size="15" fill="#000" stroke="#000" stroke-width="0" font-weight="bold" ><tspan>c</tspan></text>
<text x="233.9" y="198.8" font-size="15" fill="#000" stroke="#000" stroke-width="0" font-weight="bold" ><tspan>d</tspan></text>
</svg></body></html>
